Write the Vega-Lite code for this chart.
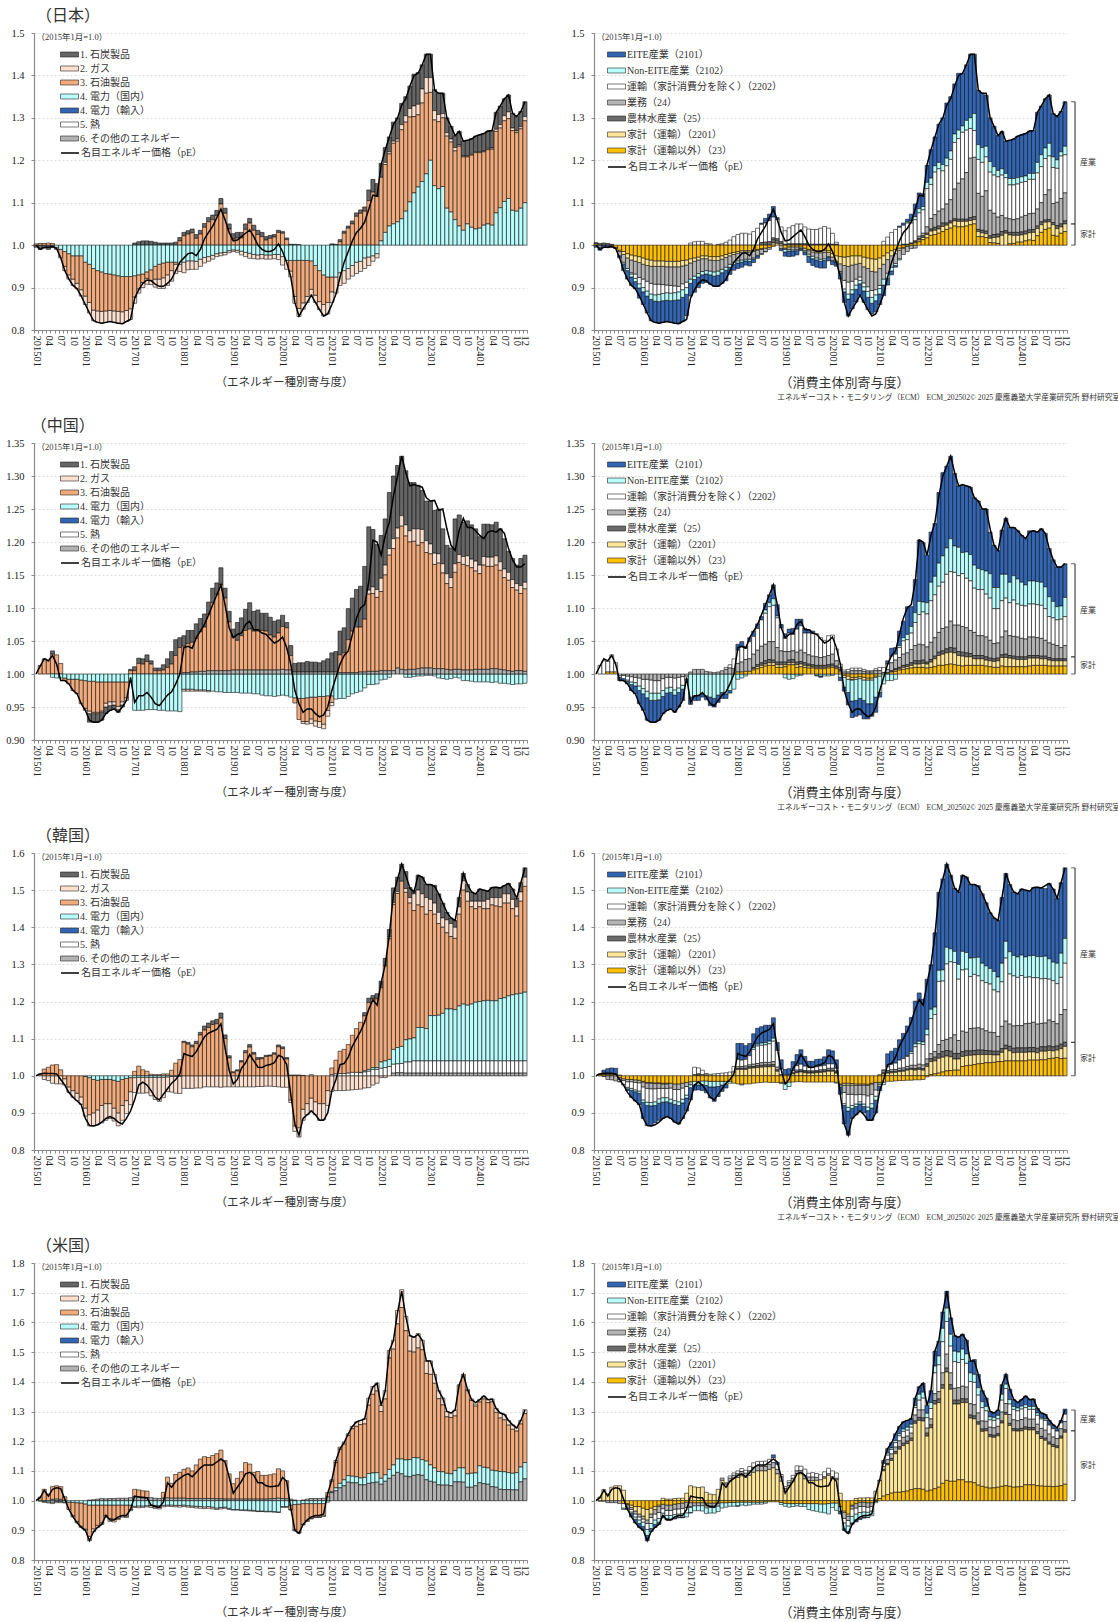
{"$schema":"https://vega.github.io/schema/vega-lite/v6.json","padding":{"left":5,"top":8,"right":0,"bottom":0},"background":"white","bounds":"flush","spacing":{"row":113,"column":67},"columns":2,"resolve":{"scale":{"color":"independent","stroke":"independent"},"legend":{"color":"independent","stroke":"independent"}},
"config":{"font":"Liberation Serif, Noto Sans CJK JP","view":{"stroke":null},"axisY":{"grid":true,"gridColor":"#cfcfcf","gridDash":[2,2],"gridWidth":0.7,"domainColor":"#888","domainWidth":1.2,"tickColor":"#888","tickSize":3,"labelFontSize":10.5,"labelColor":"#222","labelPadding":7,"labelOverlap":false,"titleFontSize":8.5,"titleFontWeight":"normal","titleAngle":0,"titleX":2,"titleY":8,"titleAlign":"left","titleColor":"#333"},"axisX":{"grid":false,"domainColor":"#888","domainWidth":1.2,"tickColor":"#888","tickSize":3,"tickBand":"extent","labelFontSize":10.5,"labelColor":"#222","labelAngle":90,"labelOverlap":false,"labelPadding":2,"titleFontSize":11.5,"titleFontWeight":"normal","titleColor":"#333","titlePadding":10,"titleX":250},"legend":{"orient":"none","labelFontSize":10,"labelColor":"#333","title":null,"symbolSize":100,"symbolStrokeWidth":0.6,"symbolStrokeColor":"#222","symbolOpacity":1,"padding":0,"labelOffset":5},"title":{"fontWeight":"normal","color":"#333"}},
"datasets":{
"jl":[{"t":201501,"l":0,"a":-0.5,"c":0.3},{"t":201502,"l":-1,"a":-1,"c":0.4},{"t":201503,"l":-0.5,"a":-0.7,"c":0.4},{"t":201504,"l":-0.5,"a":-1,"c":0.5},{"t":201505,"l":-0.3,"a":-0.6,"c":0.4},{"t":201506,"l":-0.8,"c":-0.5,"d":-0.5},{"t":201507,"l":-3,"c":-2,"d":-1},{"t":201508,"l":-6,"c":-3.5,"d":-1.5,"b":-1},{"t":201509,"l":-8,"c":-5,"d":-2,"b":-1},{"t":201510,"l":-9.5,"c":-5.5,"d":-2.5,"b":-1.5},{"t":201511,"l":-10.3,"c":-6.5,"d":-2.5,"b":-1.3},{"t":201512,"l":-12,"c":-8,"d":-2.5,"b":-1.5},{"t":201601,"l":-14,"d":-4,"c":-8,"b":-2},{"t":201602,"l":-16,"d":-4.5,"c":-9,"b":-2.5},{"t":201603,"l":-17.8,"d":-5.5,"c":-9.8,"b":-2.5},{"t":201604,"l":-18.2,"d":-6,"c":-9.5,"b":-2.7},{"t":201605,"l":-18.4,"d":-6.3,"c":-9.3,"b":-2.8},{"t":201606,"l":-18.2,"d":-6.7,"c":-8.8,"b":-2.7},{"t":201607,"l":-18,"d":-6.8,"c":-8.6,"b":-2.6},{"t":201608,"l":-18.2,"d":-7,"c":-8.5,"b":-2.7},{"t":201609,"l":-18.4,"d":-7.2,"c":-8.4,"b":-2.8},{"t":201610,"l":-18.5,"d":-7.4,"c":-8.3,"b":-2.8},{"t":201611,"l":-18,"d":-7.4,"c":-8,"b":-2.6},{"t":201612,"l":-17.5,"d":-7.4,"c":-7.6,"b":-2.5},{"t":201701,"l":-12.5,"d":-7.2,"c":-5,"b":-1.5,"a":0.5},{"t":201702,"l":-10.5,"d":-7,"c":-3.3,"b":-1,"a":0.8},{"t":201703,"l":-9,"d":-6.8,"c":-2,"b":-1.2,"a":1},{"t":201704,"l":-8.2,"d":-6.3,"c":-1.5,"b":-1.4,"a":1},{"t":201705,"l":-8.4,"d":-5.8,"c":-2.5,"b":-1,"a":0.9},{"t":201706,"l":-9.2,"d":-5,"c":-3,"b":-1.9,"a":0.7},{"t":201707,"l":-9.7,"d":-4.5,"c":-3.5,"b":-2.2,"a":0.5},{"t":201708,"l":-9.7,"d":-4.2,"c":-3.5,"b":-2.5,"a":0.5},{"t":201709,"l":-9,"d":-4,"c":-3,"b":-2.5,"a":0.5},{"t":201710,"l":-8,"d":-4,"c":-2,"b":-2.5,"a":0.5},{"t":201711,"l":-6,"d":-4,"c":-0.5,"b":-2.2,"a":0.7},{"t":201712,"l":-4,"d":-4.5,"b":-1.7,"c":1,"a":0.8},{"t":201801,"l":-3,"c":2.2,"a":0.8,"d":-4,"b":-2.5},{"t":201802,"l":-2,"c":2.6,"a":0.8,"d":-3.7,"b":-2.1},{"t":201803,"l":-1.8,"c":2.9,"a":0.9,"d":-3.7,"b":-2},{"t":201804,"l":-2.5,"c":1.6,"a":0.9,"d":-3.8,"b":-1.9},{"t":201805,"l":-1,"c":2.6,"a":0.9,"d":-3.3,"b":-1.7},{"t":201806,"l":1.5,"c":4.2,"a":0.9,"d":-2.9,"b":-1.3},{"t":201807,"l":3,"c":5.5,"a":1,"d":-2.7,"b":-1.1},{"t":201808,"l":4.5,"c":6,"a":1.1,"d":-2.4,"b":-0.9},{"t":201809,"l":6.5,"c":7,"a":1.2,"d":-2,"b":-0.7},{"t":201810,"l":8.5,"c":9.7,"a":1.3,"d":-1.8,"b":-0.7},{"t":201811,"l":6,"c":7.5,"a":1.2,"d":-1.7,"b":-0.6},{"t":201812,"l":3,"c":3.8,"a":1.2,"d":-1.3,"b":-0.5},{"t":201901,"l":1,"c":1.4,"a":1.3,"d":-1.1,"b":-0.4},{"t":201902,"l":1.2,"c":1.7,"a":1.3,"d":-1.2,"b":-0.5},{"t":201903,"l":2,"c":1.7,"a":1.3,"d":-1.4,"b":-0.9},{"t":201904,"l":2.8,"c":3.7,"a":1.3,"d":-1.7,"b":-1},{"t":201905,"l":3.6,"c":5.2,"a":1.1,"d":-1.9,"b":-1.2},{"t":201906,"l":2,"c":3.5,"a":1.2,"d":-2.2,"b":-1},{"t":201907,"l":0,"c":2.5,"a":1,"d":-2.3,"b":-1},{"t":201908,"l":-1,"c":2,"a":1,"d":-2.2,"b":-1},{"t":201909,"l":-1.5,"c":1.2,"a":0.8,"d":-2.3,"b":-1},{"t":201910,"l":-1.5,"c":1.6,"a":0.7,"d":-2.3,"b":-1},{"t":201911,"l":-1,"c":1.9,"a":0.6,"d":-2.2,"b":-1},{"t":201912,"l":0.3,"c":3,"a":0.5,"d":-2.2,"b":-1.2},{"t":202001,"l":-1.5,"c":2.8,"a":0.4,"d":-2.7,"b":-2},{"t":202002,"l":-4,"c":1.3,"a":0.4,"d":-3.6,"b":-2.1},{"t":202003,"l":-7.5,"d":-3.6,"c":-2.5,"b":-1.4,"a":0.2},{"t":202004,"l":-13.5,"d":-3.6,"c":-8.5,"b":-1.6,"a":0.2},{"t":202005,"l":-16.7,"d":-3.6,"c":-11.3,"b":-1.9,"a":0.1},{"t":202006,"l":-15,"d":-3.6,"c":-10,"b":-1.5},{"t":202007,"l":-13.5,"d":-3.6,"c":-8.5,"b":-1.4},{"t":202008,"l":-11.8,"d":-3.7,"c":-6.7,"b":-1.4},{"t":202009,"l":-13.5,"d":-4.8,"c":-7,"b":-1.7},{"t":202010,"l":-15.2,"d":-6,"c":-7.3,"b":-1.9},{"t":202011,"l":-16.7,"d":-7,"c":-7,"b":-2.7},{"t":202012,"l":-16.2,"d":-7.5,"c":-6,"b":-2.7},{"t":202101,"l":-14,"d":-7.5,"c":-3.5,"b":-2.5,"a":0.3},{"t":202102,"l":-11.5,"d":-7.5,"b":-3.8,"a":0.2},{"t":202103,"l":-7.5,"d":-6.5,"b":-3,"c":0.8,"a":0.5},{"t":202104,"l":-4,"c":2.8,"a":0.5,"d":-6,"b":-3},{"t":202105,"l":-1.5,"c":4,"a":0.5,"d":-5.5,"b":-2.5},{"t":202106,"l":1,"c":5,"a":0.7,"d":-4.8,"b":-2.5},{"t":202107,"l":3,"c":6.8,"a":0.8,"d":-4,"b":-2.7},{"t":202108,"l":4,"c":7.5,"a":0.8,"d":-3.8,"b":-2.4},{"t":202109,"l":5.5,"c":8,"a":1,"d":-3,"b":-2.5},{"t":202110,"l":8.5,"c":10.5,"a":2.5,"d":-2.8,"b":-2},{"t":202111,"l":11.8,"c":12.5,"a":3,"d":-2.5,"b":-1.3},{"t":202112,"l":11.5,"c":11.5,"a":3,"d":-2,"b":-1},{"t":202201,"l":19,"d":1,"c":15,"a":3.3},{"t":202202,"l":22.5,"d":3,"c":16,"b":0.5,"a":3.5},{"t":202203,"l":25.5,"d":4.5,"c":17,"b":0.5,"a":3.5},{"t":202204,"l":28.5,"d":5,"c":19,"b":0.5,"a":4.5},{"t":202205,"l":30,"d":5.5,"c":19,"b":0.5,"a":5},{"t":202206,"l":33,"d":6.2,"c":21,"b":1.2,"a":5},{"t":202207,"l":34.5,"d":8,"c":21,"b":1.5,"a":4.5},{"t":202208,"l":37.5,"d":10.2,"c":20,"b":2,"a":5.3},{"t":202209,"l":40,"d":12.3,"c":18,"b":2.5,"a":7.5},{"t":202210,"l":40.5,"d":13.7,"c":17,"b":2.5,"a":7.5},{"t":202211,"l":42.5,"d":15,"c":18.5,"b":3.3,"a":5.7},{"t":202212,"l":45,"d":16.8,"c":19,"b":3.7,"a":5.5},{"t":202301,"l":45,"d":20,"c":16,"b":3.5,"a":5.5},{"t":202302,"l":36.5,"d":14,"c":15.5,"b":2.2,"a":5},{"t":202303,"l":35.8,"d":13.3,"c":15.8,"b":1.7,"a":5},{"t":202304,"l":35.8,"d":13.8,"c":16.2,"b":1,"a":4.8},{"t":202305,"l":30,"d":8.7,"c":17,"b":0.8,"a":3.5},{"t":202306,"l":28,"d":7.8,"c":16.5,"b":0.7,"a":3},{"t":202307,"l":25.8,"d":6,"c":16.2,"b":0.8,"a":2.8},{"t":202308,"l":26.8,"d":4.5,"c":18.8,"b":0.3,"a":3.2},{"t":202309,"l":24.5,"d":3.5,"c":17.3,"b":0.2,"a":3.5},{"t":202310,"l":24.7,"d":5,"c":15.8,"b":0.2,"a":3.7},{"t":202311,"l":25,"d":4.2,"c":17,"b":0.2,"a":3.7},{"t":202312,"l":25.7,"d":3.8,"c":18,"b":0.2,"a":3.7},{"t":202401,"l":26,"d":4,"c":17.8,"b":0.2,"a":4},{"t":202402,"l":26.3,"d":4.7,"c":17.3,"b":0.2,"a":4.1},{"t":202403,"l":26.9,"d":5,"c":17.5,"b":0.3,"a":4.1},{"t":202404,"l":27,"d":4.7,"c":17.9,"b":0.3,"a":4.1},{"t":202405,"l":31.3,"d":7.6,"c":19.2,"b":0.5,"a":4},{"t":202406,"l":32.8,"d":8.8,"c":18.8,"b":0.8,"a":4.4},{"t":202407,"l":34.5,"d":10.3,"c":19,"b":1.2,"a":4},{"t":202408,"l":35.4,"d":11,"c":18.8,"b":1.6,"a":4},{"t":202409,"l":31,"d":8.2,"c":18.8,"b":0.6,"a":3.5},{"t":202410,"l":30.3,"d":8,"c":18.5,"b":0.4,"a":3.4},{"t":202411,"l":31.5,"d":8.7,"c":18.7,"b":0.5,"a":3.6},{"t":202412,"l":33.8,"d":10,"c":19.3,"b":1,"a":3.5}],
"jr":[{"t":201501,"l":0,"a":-0.5,"g":0.3,"e":0.3},{"t":201502,"l":-1,"a":-0.7,"e":0.4,"d":-0.5},{"t":201503,"l":-0.5,"a":-0.5,"e":0.5},{"t":201504,"l":-0.5,"a":-0.6,"e":0.4},{"t":201505,"l":-0.3,"a":-0.3,"e":0.2,"d":-0.2},{"t":201506,"l":-0.8,"g":-0.5,"a":-0.3},{"t":201507,"l":-3,"g":-1.2,"f":-0.3,"d":-1,"a":-0.5},{"t":201508,"l":-6,"g":-1.5,"f":-0.7,"d":-1.8,"b":-0.4,"a":-1.6},{"t":201509,"l":-8,"g":-2,"f":-1,"d":-2.5,"b":-0.5,"a":-2},{"t":201510,"l":-9.5,"g":-2.3,"f":-1.2,"d":-3,"c":-0.3,"b":-0.7,"a":-2},{"t":201511,"l":-10.3,"g":-2.5,"f":-1.3,"d":-3,"c":-1,"b":-0.8,"a":-1.7},{"t":201512,"l":-12,"g":-2.7,"f":-1.4,"d":-3.5,"c":-1.5,"b":-1,"a":-2.4},{"t":201601,"l":-14,"g":-3,"f":-1.5,"d":-3.5,"c":-2,"b":-1,"a":-3},{"t":201602,"l":-16,"g":-3.3,"f":-1.5,"d":-3.7,"c":-2.3,"b":-1.2,"a":-4},{"t":201603,"l":-17.8,"g":-3.5,"f":-1.5,"d":-4,"c":-2.5,"b":-1.3,"a":-5},{"t":201604,"l":-18.2,"g":-3.7,"f":-1.3,"d":-4.2,"c":-2.5,"b":-1.5,"a":-5},{"t":201605,"l":-18.4,"g":-3.7,"f":-1.3,"d":-4.2,"c":-2.4,"b":-1.7,"a":-5.1},{"t":201606,"l":-18.2,"g":-3.7,"f":-1.3,"d":-4.3,"c":-2.1,"b":-1.7,"a":-5.1},{"t":201607,"l":-18,"g":-3.8,"f":-1.3,"d":-4.3,"c":-1.8,"b":-1.8,"a":-5},{"t":201608,"l":-18.2,"g":-3.8,"f":-1.3,"d":-4.4,"c":-1.8,"b":-1.8,"a":-5.1},{"t":201609,"l":-18.4,"g":-3.8,"f":-1.3,"d":-4.5,"c":-1.6,"b":-1.8,"a":-5.4},{"t":201610,"l":-18.5,"g":-3.8,"f":-1.3,"d":-4.6,"c":-1.3,"b":-1.9,"a":-5.6},{"t":201611,"l":-18,"g":-3.6,"f":-1.3,"d":-4.2,"c":-1.4,"b":-1.8,"a":-5.7},{"t":201612,"l":-17.5,"g":-3.5,"f":-1.2,"d":-4,"c":-1.3,"b":-1.6,"a":-5},{"t":201701,"l":-12.5,"g":-3.2,"f":-1,"d":-3.8,"b":-1,"a":-3,"c":0.5},{"t":201702,"l":-10.5,"g":-3,"f":-0.8,"d":-3.5,"b":-0.8,"a":-3,"c":0.8},{"t":201703,"l":-9,"g":-2.8,"f":-0.7,"d":-3.2,"b":-0.8,"a":-2.5,"c":0.9},{"t":201704,"l":-8.2,"g":-2.5,"f":-0.7,"d":-3,"b":-0.8,"a":-2,"c":0.9},{"t":201705,"l":-8.4,"g":-2.5,"f":-0.7,"d":-2.8,"b":-0.8,"a":-2,"c":0.4},{"t":201706,"l":-9.2,"g":-2.7,"f":-0.8,"d":-2.6,"b":-0.9,"a":-2.2,"c":0.3},{"t":201707,"l":-9.7,"g":-2.7,"f":-0.9,"d":-2.7,"b":-1,"a":-2.4},{"t":201708,"l":-9.7,"g":-2.7,"f":-0.9,"d":-2.5,"b":-1,"a":-2.6,"c":0.2},{"t":201709,"l":-9,"g":-2.5,"f":-0.8,"d":-2.4,"b":-0.8,"a":-2.5,"c":0.3},{"t":201710,"l":-8,"g":-2.2,"f":-0.7,"d":-2.3,"b":-0.7,"a":-2.5,"c":0.7},{"t":201711,"l":-6,"g":-1.9,"f":-0.6,"d":-2,"b":-0.7,"a":-1.7,"c":1.2},{"t":201712,"l":-4,"g":-1.7,"f":-0.5,"d":-1.8,"b":-0.6,"a":-1.3,"c":2},{"t":201801,"l":-3,"g":-1.5,"f":-0.4,"d":-1.8,"b":-0.5,"a":-1.3,"c":2.5},{"t":201802,"l":-2,"g":-1.3,"f":-0.4,"d":-1.8,"b":-0.5,"a":-1.2,"c":2.8},{"t":201803,"l":-1.8,"g":-1.3,"f":-0.3,"d":-1.7,"b":-0.4,"a":-1,"c":2.8},{"t":201804,"l":-2.5,"g":-1.3,"f":-0.3,"d":-1.7,"b":-0.5,"a":-1.1,"c":2.6},{"t":201805,"l":-1,"g":-1.2,"f":-0.3,"d":-1.5,"b":-0.3,"a":-0.8,"c":3.2},{"t":201806,"l":1.5,"g":-1,"f":-0.2,"d":-1.2,"b":-0.2,"a":-0.5,"c":4},{"t":201807,"l":3,"g":-0.8,"f":-0.2,"d":-1,"b":-0.2,"e":0.6,"a":0.3,"c":4.3},{"t":201808,"l":4.5,"g":-0.7,"d":-0.8,"e":0.7,"c":4.5,"a":1.1,"b":-0.1},{"t":201809,"l":6.5,"g":-0.5,"d":-0.5,"e":0.8,"c":5,"a":1.5},{"t":201810,"l":8.5,"g":-0.3,"f":0.5,"e":0.9,"c":4.9,"a":2.5,"d":0.3},{"t":201811,"l":6,"f":0.4,"e":0.8,"c":4.5,"a":0.5,"d":0.3},{"t":201812,"l":3,"f":0.3,"e":0.5,"c":3.5,"a":-0.5,"d":-0.8},{"t":201901,"l":1,"g":-0.7,"e":0.2,"c":3.2,"a":-1,"b":-0.6,"d":-0.3},{"t":201902,"l":1.2,"g":-0.4,"e":0.3,"c":3.8,"a":-1.3,"b":-0.4,"d":-0.6},{"t":201903,"l":2,"g":-0.4,"e":0.3,"c":4.3,"a":-1.2,"b":-0.3,"d":-0.7},{"t":201904,"l":2.8,"g":-0.4,"e":0.3,"c":4.7,"a":-1,"b":-0.3,"d":-0.6},{"t":201905,"l":3.6,"g":-0.4,"e":0.3,"c":4.7,"a":-0.3,"d":-0.4,"b":-0.2},{"t":201906,"l":2,"g":-0.7,"e":0.3,"c":4,"a":-0.7,"b":-0.3,"d":-0.6},{"t":201907,"l":0,"g":-1,"f":-0.3,"e":0.2,"c":3.6,"a":-1.5,"b":-0.5,"d":-0.8},{"t":201908,"l":-1,"g":-1.2,"f":-0.4,"e":0.2,"c":3.5,"a":-1.6,"b":-0.6,"d":-1},{"t":201909,"l":-1.5,"g":-1.3,"f":-0.5,"e":0.2,"c":3.5,"a":-1.7,"b":-0.5,"d":-1.2},{"t":201910,"l":-1.5,"g":-1.3,"f":-0.5,"e":0.2,"c":3.8,"a":-1.6,"b":-0.5,"d":-1.5},{"t":201911,"l":-1,"g":-1.3,"f":-0.4,"e":0.2,"c":4.2,"a":-1.8,"b":-0.4,"d":-1.5},{"t":201912,"l":0.3,"g":-1.3,"f":-0.4,"e":0.2,"c":3.8,"a":-0.8,"b":-0.2,"d":-1},{"t":202001,"l":-1.5,"g":-2,"f":-0.8,"e":0.2,"c":2.6,"a":-0.8,"b":-0.2,"d":-0.8},{"t":202002,"l":-4,"g":-2.5,"f":-1.3,"e":0.2,"c":0.5,"a":-1,"b":-0.2},{"t":202003,"l":-7.5,"g":-2.7,"f":-1.7,"d":-1.8,"a":-1.5,"b":-0.3},{"t":202004,"l":-13.5,"g":-2.8,"f":-2,"d":-3.5,"c":-2,"b":-0.7,"a":-2.5},{"t":202005,"l":-16.7,"g":-2.7,"f":-2.3,"d":-3.7,"c":-2.8,"b":-1.2,"a":-4},{"t":202006,"l":-15,"g":-2.5,"f":-2.2,"d":-3.8,"c":-2,"b":-1,"a":-3.5},{"t":202007,"l":-13.5,"g":-2.5,"f":-2,"d":-3.5,"c":-1.4,"b":-1,"a":-3},{"t":202008,"l":-11.8,"g":-2.5,"f":-1.8,"d":-3.2,"c":-0.8,"b":-0.8,"a":-2.7},{"t":202009,"l":-13.5,"g":-2.8,"f":-2.3,"d":-3.8,"c":-0.9,"b":-1,"a":-2.7},{"t":202010,"l":-15.2,"g":-3,"f":-2.5,"d":-4.3,"c":-1.1,"b":-1.4,"a":-2.9},{"t":202011,"l":-16.7,"g":-3.2,"f":-3,"d":-4.5,"c":-1.6,"b":-1.4,"a":-2.5},{"t":202012,"l":-16.2,"g":-3.3,"f":-3,"d":-4.2,"c":-1.2,"b":-1.4,"a":-2.6},{"t":202101,"l":-14,"g":-3,"f":-2.5,"d":-4,"c":-0.7,"b":-1.3,"a":-2.5},{"t":202102,"l":-11.5,"g":-2.5,"f":-2,"d":-3.5,"c":0.9,"b":-1.4,"a":-2.5},{"t":202103,"l":-7.5,"g":-1.8,"f":-1.6,"d":-3.2,"c":1.9,"b":-1.2,"a":-1.6},{"t":202104,"l":-4,"g":-1.3,"f":-1.2,"d":-2.7,"c":3,"b":-0.9,"a":-0.9},{"t":202105,"l":-1.5,"g":-1,"f":-1,"d":-2.3,"c":3.7,"b":-0.5,"a":-0.4},{"t":202106,"l":1,"g":-0.7,"f":-0.5,"d":-2,"c":4.2,"b":-0.3,"a":0.3},{"t":202107,"l":3,"g":-0.5,"f":-0.2,"d":-1.5,"c":4.5,"e":0.2,"a":0.5},{"t":202108,"l":4,"g":-0.3,"d":-1.2,"c":5,"e":0.2,"a":0.6,"b":0.3},{"t":202109,"l":5.5,"d":-0.8,"c":4.7,"e":0.2,"g":0.3,"a":1.6,"b":0.5},{"t":202110,"l":8.5,"g":0.5,"f":0.2,"e":0.3,"d":-0.7,"c":5,"a":3,"b":0.7},{"t":202111,"l":11.8,"g":0.8,"f":0.4,"e":0.4,"c":5.5,"d":0.5,"a":3.7,"b":1},{"t":202112,"l":11.5,"g":1.3,"f":0.5,"e":0.4,"c":5.5,"d":0.6,"a":3,"b":0.8},{"t":202201,"l":19,"g":1.7,"f":0.8,"e":0.3,"d":1.5,"c":9,"b":1.5,"a":4},{"t":202202,"l":22.5,"g":2.3,"f":1,"e":0.5,"d":2.5,"c":8,"b":1.5,"a":6.7},{"t":202203,"l":25.5,"g":2.5,"f":1,"e":0.7,"d":3,"c":10,"b":1.5,"a":6.8},{"t":202204,"l":28.5,"g":2.8,"f":1,"e":0.7,"d":3.5,"c":10,"b":1.5,"a":9},{"t":202205,"l":30,"g":3.2,"f":1.2,"e":0.8,"d":3.3,"c":9,"b":1.5,"a":11},{"t":202206,"l":33,"g":3.7,"f":1,"e":0.5,"d":4.5,"c":9,"b":1.8,"a":13},{"t":202207,"l":34.5,"g":4,"f":1.2,"e":0.5,"d":5,"c":9.5,"b":2,"a":12.8},{"t":202208,"l":37.5,"g":4.5,"f":1.2,"e":0.5,"d":7,"c":11,"b":2,"a":11.8},{"t":202209,"l":40,"g":4.3,"f":1.3,"e":0.5,"d":8.5,"c":10.5,"b":2,"a":13.4},{"t":202210,"l":40.5,"g":4.3,"f":1.3,"e":0.5,"d":9.5,"c":11,"b":1.5,"a":12.4},{"t":202211,"l":42.5,"g":4.5,"f":1.1,"e":0.5,"d":11,"c":10,"b":2.3,"a":13.1},{"t":202212,"l":45,"g":4.8,"f":1,"e":0.7,"d":14,"c":7,"b":2.5,"a":15},{"t":202301,"l":45,"g":5,"f":1,"e":0.7,"d":14,"c":6.3,"b":4,"a":14},{"t":202302,"l":36.5,"g":2,"f":1.2,"e":0.5,"d":8.5,"c":8,"b":3.5,"a":12.8},{"t":202303,"l":35.8,"g":2,"f":0.9,"e":0.6,"d":8,"c":8,"b":3.5,"a":12.8},{"t":202304,"l":35.8,"g":1.8,"f":0.9,"e":0.6,"d":9.5,"c":8,"b":2.5,"a":12},{"t":202305,"l":30,"g":0.6,"f":1,"e":0.6,"d":6,"c":9,"b":2.5,"a":10.3},{"t":202306,"l":28,"g":0.5,"f":1.3,"e":0.7,"d":5,"c":9,"b":2,"a":9.5},{"t":202307,"l":25.8,"g":0.4,"f":1.5,"e":0.7,"d":4,"c":9.5,"b":1.5,"a":8.2},{"t":202308,"l":26.8,"f":2.3,"e":0.9,"d":3.8,"c":9.5,"b":1.5,"a":8.8},{"t":202309,"l":24.5,"f":2.8,"e":0.6,"d":3,"c":9.5,"b":1,"a":7.6},{"t":202310,"l":24.7,"g":0.3,"f":2.1,"e":0.6,"d":3.2,"c":8,"b":1.5,"a":9},{"t":202311,"l":25,"g":0.4,"f":1.9,"e":0.7,"d":3,"c":8.2,"b":1.5,"a":9.3},{"t":202312,"l":25.7,"g":0.7,"f":1.6,"e":0.7,"d":3.2,"c":8.2,"b":1.5,"a":9.8},{"t":202401,"l":26,"g":0.7,"f":1.7,"e":0.7,"d":3.5,"c":8.2,"b":1.3,"a":9.9},{"t":202402,"l":26.3,"g":1,"f":1.6,"e":0.7,"d":3.7,"c":8,"b":1.3,"a":10},{"t":202403,"l":26.9,"g":1.2,"f":1.7,"e":0.7,"d":3.8,"c":8.1,"b":1.4,"a":10},{"t":202404,"l":27,"g":1.1,"f":1.9,"e":0.7,"d":3.8,"c":8,"b":1.4,"a":10.1},{"t":202405,"l":31.3,"g":2.2,"f":1.7,"e":0.6,"d":4,"c":8.5,"b":2.5,"a":11.8},{"t":202406,"l":32.8,"g":3,"f":1.8,"e":0.7,"d":4.5,"c":8.5,"b":2.8,"a":11.5},{"t":202407,"l":34.5,"g":3.7,"f":1.7,"e":0.5,"d":6,"c":8.5,"b":2.5,"a":11.6},{"t":202408,"l":35.4,"g":4,"f":1.5,"e":0.5,"d":7,"c":8,"b":3,"a":11.4},{"t":202409,"l":31,"g":2.3,"f":2.5,"e":0.5,"d":4.5,"c":8.5,"b":2.5,"a":10.2},{"t":202410,"l":30.3,"g":2.1,"f":1.8,"e":0.7,"d":5.5,"c":8,"b":2,"a":10.2},{"t":202411,"l":31.5,"g":2.8,"f":1.5,"e":0.7,"d":6,"c":10,"b":1,"a":9.5},{"t":202412,"l":33.8,"g":3.2,"f":1.8,"e":0.7,"d":6.6,"c":9,"b":2,"a":10.5}],
"cl":[{"t":201501,"l":0},{"t":201502,"l":1.2,"c":1.3},{"t":201503,"l":2.3,"c":2.3},{"t":201504,"l":2,"c":2},{"t":201505,"l":2.8,"c":3,"a":0.5,"d":-0.5},{"t":201506,"l":1.5,"c":2.9,"d":-0.6},{"t":201507,"l":-1,"c":1.6,"d":-0.6},{"t":201508,"l":-1,"d":-0.6,"c":-0.4},{"t":201509,"l":-1.5,"d":-0.8,"c":-0.7},{"t":201510,"l":-2.5,"d":-0.8,"c":-1.7},{"t":201511,"l":-3,"d":-0.8,"c":-2.2},{"t":201512,"l":-4.5,"d":-0.9,"c":-3.6},{"t":201601,"l":-5.5,"d":-1,"c":-4.2,"b":-0.3},{"t":201602,"l":-7,"d":-1.1,"c":-4.5,"b":-0.4,"a":-1.3},{"t":201603,"l":-7.3,"d":-1.1,"c":-4.7,"b":-0.2,"a":-1.3},{"t":201604,"l":-7.3,"d":-1.2,"c":-4.6,"b":-0.2,"a":-1.3},{"t":201605,"l":-7,"d":-1.2,"c":-4.4,"b":-0.2,"a":-1.2},{"t":201606,"l":-6,"d":-1.2,"c":-3.2,"b":-0.6,"a":-1},{"t":201607,"l":-5.5,"d":-1.2,"c":-3,"b":-0.6,"a":-0.7},{"t":201608,"l":-5.3,"d":-1.2,"c":-3,"b":-0.5,"a":-0.6},{"t":201609,"l":-5.8,"d":-1.2,"c":-3.7,"b":-0.5,"a":-0.4},{"t":201610,"l":-5,"d":-1.2,"c":-3,"b":-0.5,"a":-0.3},{"t":201611,"l":-4,"d":-1.2,"c":-2.4,"b":-0.4},{"t":201612,"l":-0.5,"d":-1.2,"c":0.5,"a":0.2},{"t":201701,"l":-4.3,"d":-5.5,"c":0.5,"a":0.6},{"t":201702,"l":-3.3,"d":-5.5,"c":1.6,"a":0.8},{"t":201703,"l":-3.3,"d":-5.5,"c":1.5,"a":0.8},{"t":201704,"l":-2.8,"d":-5.4,"c":1.9,"a":1},{"t":201705,"l":-3.5,"d":-5.4,"c":1.5,"a":0.5},{"t":201706,"l":-4.5,"d":-5.4,"c":0.5,"a":0.4},{"t":201707,"l":-4.8,"d":-5.5,"c":0.5,"a":0.4},{"t":201708,"l":-4,"d":-5.5,"c":0.6,"a":0.8},{"t":201709,"l":-3.2,"d":-5.6,"c":1,"a":1.3},{"t":201710,"l":-2.7,"d":-5.6,"c":1.5,"a":1.9},{"t":201711,"l":-1.5,"d":-5.6,"c":2.8,"a":2.4},{"t":201712,"l":0,"d":-5.7,"c":4,"a":1.5},{"t":201801,"l":4,"c":4,"a":1.6,"g":0.2,"d":-2.3,"b":-0.3},{"t":201802,"l":4.2,"c":4.4,"a":2,"g":0.2,"d":-2.3,"b":-0.3},{"t":201803,"l":3.9,"c":4.5,"a":1.8,"g":0.3,"d":-2.3,"b":-0.3},{"t":201804,"l":5.5,"c":5.1,"a":2.2,"g":0.3,"d":-2.4,"b":-0.2},{"t":201805,"l":6.5,"c":6,"a":2,"g":0.4,"d":-2.4,"b":-0.2},{"t":201806,"l":7.5,"c":6.7,"a":2,"g":0.4,"d":-2.4,"b":-0.2},{"t":201807,"l":9,"c":8.5,"a":1.9,"g":0.5,"d":-2.5,"b":-0.2},{"t":201808,"l":10.5,"c":10.3,"a":2.2,"g":0.5,"d":-2.6},{"t":201809,"l":12,"c":11.5,"a":1.8,"g":0.5,"d":-2.7},{"t":201810,"l":13.5,"c":13,"a":2.6,"g":0.5,"d":-2.7},{"t":201811,"l":10.5,"c":11,"a":1.5,"g":0.5,"d":-2.8},{"t":201812,"l":7,"c":7.4,"a":1.6,"g":0.5,"d":-2.8},{"t":201901,"l":5.5,"c":5,"a":1.2,"g":0.6,"d":-2.8},{"t":201902,"l":6,"c":4.5,"a":2.7,"g":0.6,"d":-2.8},{"t":201903,"l":6.2,"c":5.2,"a":2.7,"g":0.6,"d":-2.9},{"t":201904,"l":7.5,"c":6,"a":3.2,"g":0.6,"d":-2.9},{"t":201905,"l":8,"c":6.2,"a":4,"g":0.6,"d":-2.9},{"t":201906,"l":6.7,"c":5.9,"a":3,"g":0.6,"d":-3},{"t":201907,"l":6.7,"c":5.9,"a":3.2,"g":0.6,"d":-3},{"t":201908,"l":6.2,"c":6,"a":2.6,"g":0.6,"d":-3.2},{"t":201909,"l":6,"c":5.9,"a":2.7,"g":0.6,"d":-3.3},{"t":201910,"l":5.3,"c":5.3,"a":2.7,"g":0.6,"d":-3.3},{"t":201911,"l":4.7,"c":5,"a":2.4,"g":0.6,"d":-3.4},{"t":201912,"l":5,"c":5.6,"a":2,"g":0.6,"d":-3.3},{"t":202001,"l":5.6,"c":6.5,"a":1.7,"g":0.7,"d":-3.2},{"t":202002,"l":4,"c":6.4,"a":0.8,"g":0.6,"d":-3.3},{"t":202003,"l":1.5,"c":2.2,"a":1.5,"g":0.6,"d":-3.5},{"t":202004,"l":-2.5,"a":1.3,"g":0.3,"d":-3.6,"c":-0.8},{"t":202005,"l":-4.5,"a":1.4,"g":0.3,"d":-3.7,"c":-3.2},{"t":202006,"l":-5.8,"a":1.4,"g":0.3,"d":-3.7,"c":-3.5,"b":-0.3},{"t":202007,"l":-5.3,"a":1.6,"g":0.3,"d":-3.6,"c":-3.6,"b":-0.4},{"t":202008,"l":-5.3,"a":1.5,"g":0.3,"d":-3.5,"c":-3.3,"b":-0.7},{"t":202009,"l":-6,"a":1.5,"g":0.3,"d":-3.5,"c":-3.6,"b":-0.8},{"t":202010,"l":-6.5,"a":1.4,"g":0.3,"d":-3.4,"c":-3.8,"b":-0.9},{"t":202011,"l":-6.2,"a":1.7,"g":0.3,"d":-3.4,"c":-4.2,"b":-0.7},{"t":202012,"l":-5,"a":2,"g":0.3,"d":-3.3,"c":-2.2,"b":-0.9},{"t":202101,"l":-2.5,"a":2.9,"g":0.3,"d":-3.3,"c":-1,"b":-0.5},{"t":202102,"l":-0.5,"a":3.1,"g":0.3,"d":-3.8},{"t":202103,"l":1.5,"c":2.7,"a":3.6,"g":0.2,"d":-3.7},{"t":202104,"l":2.8,"c":3,"a":3.8,"g":0.2,"d":-3.7},{"t":202105,"l":3.5,"c":5,"a":4.7,"g":0.2,"d":-3.4},{"t":202106,"l":6,"c":6.3,"a":5,"g":0.2,"d":-3},{"t":202107,"l":8.5,"c":6.9,"a":5.7,"g":0.2,"d":-2.8},{"t":202108,"l":10,"c":6.8,"a":6.2,"g":0.3,"d":-2.6},{"t":202109,"l":10.5,"c":8,"a":8,"g":0.3,"d":-2.1},{"t":202110,"l":14,"c":11.7,"a":9.6,"g":0.4,"b":0.6,"d":-1.6},{"t":202111,"l":20.3,"c":11.8,"a":8.7,"g":0.4,"b":1,"d":-1.6},{"t":202112,"l":20,"c":11.2,"a":6.8,"g":0.4,"b":1.2,"d":-1.5},{"t":202201,"l":18,"g":0.5,"c":12,"b":2,"a":6.5,"d":-0.9},{"t":202202,"l":21,"g":0.5,"c":14.5,"b":1.5,"a":7,"d":-0.8},{"t":202203,"l":23,"g":0.5,"c":17.5,"b":1,"a":8.5,"d":-0.5},{"t":202204,"l":27,"g":0.5,"c":18.5,"b":1.5,"a":9.5},{"t":202205,"l":30,"g":0.9,"c":19.7,"b":1.5,"a":9.5},{"t":202206,"l":33,"g":0.7,"c":21.7,"b":1.6,"a":9},{"t":202207,"l":30.5,"g":0.6,"c":20.3,"b":1.7,"a":8.2,"d":-0.5},{"t":202208,"l":28.5,"g":0.7,"c":19.3,"b":1.7,"a":7.3,"d":-0.5},{"t":202209,"l":28.7,"g":0.7,"c":19.4,"b":1.9,"a":7,"d":-0.4},{"t":202210,"l":28.5,"g":0.8,"c":18.7,"b":2.5,"a":6.6,"d":-0.3},{"t":202211,"l":28.3,"g":0.9,"c":19,"b":2,"a":5.9,"d":-0.3},{"t":202212,"l":26.7,"g":0.9,"c":17.5,"b":1.8,"a":6,"d":-0.2},{"t":202301,"l":26.2,"g":0.9,"c":17.3,"b":1.5,"a":6.5,"d":-0.2},{"t":202302,"l":26.3,"g":0.8,"c":15.8,"b":1.7,"a":6.5,"d":-0.3},{"t":202303,"l":24.8,"g":0.8,"c":16,"b":1.4,"a":6.8,"d":-0.6},{"t":202304,"l":25,"g":0.8,"c":14.5,"b":1.4,"a":5.3,"d":-0.7},{"t":202305,"l":22,"g":0.7,"c":13,"b":1.5,"a":4.3,"d":-0.8},{"t":202306,"l":19.5,"g":0.6,"c":12.5,"b":1.5,"a":4.5,"d":-0.7},{"t":202307,"l":18.7,"g":0.7,"c":14.7,"b":1.3,"a":6.8,"d":-0.5},{"t":202308,"l":21.8,"g":0.7,"c":16.2,"b":1.2,"a":6,"d":-0.6},{"t":202309,"l":23.6,"g":0.6,"c":16,"b":1.2,"a":5.2,"d":-1},{"t":202310,"l":22.2,"g":0.6,"c":15.8,"b":1.5,"a":5.3,"d":-1},{"t":202311,"l":22.2,"g":0.6,"c":15.5,"b":1.3,"a":5.2,"d":-1.1},{"t":202312,"l":21.7,"g":0.7,"c":14.9,"b":1.5,"a":4.9,"d":-1.2},{"t":202401,"l":21,"g":0.7,"c":14.5,"b":1.3,"a":4.3,"d":-1.2},{"t":202402,"l":20.5,"g":0.7,"c":15.8,"b":1.3,"a":4.9,"d":-1.2},{"t":202403,"l":21.5,"g":0.7,"c":15.6,"b":1.4,"a":5,"d":-1.2},{"t":202404,"l":21.7,"g":0.8,"c":15.5,"b":1.4,"a":4.9,"d":-1.3},{"t":202405,"l":21.5,"g":0.8,"c":15.7,"b":1.4,"a":5.1,"d":-1.2},{"t":202406,"l":22,"g":0.7,"c":15,"b":1.3,"a":5,"d":-1.4},{"t":202407,"l":21.3,"g":0.6,"c":14,"b":1.3,"a":4.6,"d":-1.4},{"t":202408,"l":19,"g":0.5,"c":13.7,"b":1.2,"a":3.2,"d":-1.5},{"t":202409,"l":17.3,"g":0.4,"c":12.7,"b":1.2,"a":3.2,"d":-1.6},{"t":202410,"l":16.2,"g":0.5,"c":12.2,"b":1,"a":2.8,"d":-1.5},{"t":202411,"l":16.2,"g":0.5,"c":11.7,"b":1.2,"a":4.1,"d":-1.5},{"t":202412,"l":16.7,"g":0.4,"c":12.5,"b":1,"a":4.1,"d":-1.4}],
"cr":[{"t":201501,"l":0},{"t":201502,"l":1.2,"c":1.3},{"t":201503,"l":2.3,"c":2},{"t":201504,"l":2,"c":1.6,"g":0.3},{"t":201505,"l":2.8,"c":2.6,"g":0.3},{"t":201506,"l":1.5,"c":1.4,"g":0.3},{"t":201507,"l":-1,"a":-0.5,"b":-0.3,"c":-0.2},{"t":201508,"l":-1,"d":-0.2,"c":-0.5,"a":-0.3},{"t":201509,"l":-1.5,"d":-0.3,"c":-0.6,"b":-0.2,"a":-0.4},{"t":201510,"l":-2.5,"d":-0.4,"c":-0.8,"b":-0.4,"a":-0.9},{"t":201511,"l":-3,"d":-0.5,"c":-0.8,"b":-0.5,"a":-1.2},{"t":201512,"l":-4.5,"d":-0.6,"c":-1.2,"b":-0.7,"a":-2},{"t":201601,"l":-5.5,"d":-0.8,"c":-1.4,"b":-0.8,"a":-2.5},{"t":201602,"l":-7,"d":-0.8,"c":-1.8,"b":-1,"a":-3.4},{"t":201603,"l":-7.3,"d":-0.9,"c":-2,"b":-1.1,"a":-3.3},{"t":201604,"l":-7.3,"d":-1,"c":-1.9,"b":-1.1,"a":-3.3},{"t":201605,"l":-7,"d":-1,"c":-1.9,"b":-1,"a":-3.1},{"t":201606,"l":-6,"d":-0.7,"c":-1.8,"b":-0.9,"a":-2.6},{"t":201607,"l":-5.5,"d":-0.5,"c":-1.6,"b":-0.8,"a":-2.6},{"t":201608,"l":-5.3,"d":-0.5,"c":-1.5,"b":-0.8,"a":-2.5},{"t":201609,"l":-5.8,"d":-0.6,"c":-1.8,"b":-0.8,"a":-2.6},{"t":201610,"l":-5,"d":-0.5,"c":-1.6,"b":-0.7,"a":-2.2},{"t":201611,"l":-4,"d":-0.4,"c":-1.3,"b":-0.6,"a":-1.7},{"t":201612,"l":-0.5,"d":-0.3,"c":-0.5,"b":-0.3},{"t":201701,"l":-4.3,"d":0.3,"b":-3.5,"a":-1.1},{"t":201702,"l":-3.3,"d":0.7,"b":-3.3,"a":-0.7},{"t":201703,"l":-3.3,"d":0.7,"b":-3.2,"a":-0.8},{"t":201704,"l":-2.8,"d":0.7,"b":-3,"a":-0.5},{"t":201705,"l":-3.5,"d":0.4,"b":-3.3,"a":-0.6},{"t":201706,"l":-4.5,"d":0.3,"b":-3.5,"a":-1.3},{"t":201707,"l":-4.8,"d":0.2,"b":-3.7,"a":-1.3},{"t":201708,"l":-4,"d":0.3,"b":-3.2,"a":-1.1},{"t":201709,"l":-3.2,"d":0.5,"b":-2.8,"a":-0.9},{"t":201710,"l":-2.7,"d":0.7,"c":0.3,"b":-3,"a":-0.7},{"t":201711,"l":-1.5,"d":0.9,"c":0.5,"b":-2.5,"a":-0.4},{"t":201712,"l":0,"c":1.5,"d":0.8,"b":-2.3},{"t":201801,"l":4,"g":0.3,"d":1.3,"c":2,"a":0.9,"b":-0.8},{"t":201802,"l":4.2,"g":0.3,"d":1.5,"c":2.3,"a":0.8,"b":-0.6},{"t":201803,"l":3.9,"g":0.4,"d":1.8,"c":1.7,"b":-0.3,"a":0.3},{"t":201804,"l":5.5,"g":0.4,"d":1.9,"c":2.6,"a":0.6},{"t":201805,"l":6.5,"g":0.6,"f":0.2,"e":0.2,"d":2,"c":2.7,"a":0.8},{"t":201806,"l":7.5,"g":0.8,"f":0.3,"e":0.3,"d":2.2,"c":3.3,"a":0.7},{"t":201807,"l":9,"g":1,"f":0.3,"e":0.4,"d":2.5,"c":4,"a":0.5},{"t":201808,"l":10.5,"g":1.2,"f":0.3,"e":0.5,"d":2.5,"c":4.7,"b":0.5,"a":1},{"t":201809,"l":12,"g":1.3,"f":0.4,"e":0.5,"d":2.7,"c":5.3,"b":0.6,"a":1.2},{"t":201810,"l":13.5,"g":1.3,"f":0.4,"e":0.4,"d":2.8,"c":5.5,"b":1,"a":2.1},{"t":201811,"l":10.5,"g":1,"f":0.4,"e":0.4,"d":2.2,"c":4.5,"b":0.3,"a":1.7},{"t":201812,"l":7,"g":1,"f":0.4,"e":0.4,"d":1.7,"c":3.5,"a":0.5},{"t":201901,"l":5.5,"g":1.1,"f":0.3,"e":0.4,"d":1.6,"c":2,"b":-0.6,"a":0.7},{"t":201902,"l":6,"g":1.4,"f":0.3,"e":0.4,"d":1.3,"c":2.8,"b":-0.8,"a":0.6},{"t":201903,"l":6.2,"g":1.4,"f":0.3,"e":0.5,"d":1.3,"c":2.5,"b":-0.7,"a":0.9},{"t":201904,"l":7.5,"g":1,"f":0.4,"e":0.4,"d":1.5,"c":3.5,"b":-0.3,"a":1.5},{"t":201905,"l":8,"g":1.1,"f":0.4,"e":0.4,"d":1.7,"c":3.7,"b":-0.2,"a":1},{"t":201906,"l":6.7,"g":1,"f":0.3,"e":0.4,"d":1.5,"c":3,"a":0.7},{"t":201907,"l":6.7,"g":0.9,"f":0.3,"e":0.3,"d":1.4,"c":3.3,"a":0.5},{"t":201908,"l":6.2,"g":0.9,"f":0.2,"e":0.3,"d":1.3,"c":3.4,"a":0.4},{"t":201909,"l":6,"g":0.8,"f":0.2,"e":0.3,"d":1.3,"c":3.5,"a":-0.1,"b":-0.2},{"t":201910,"l":5.3,"g":0.8,"f":0.2,"e":0.3,"d":1.2,"c":3,"a":-0.2,"b":-0.3},{"t":201911,"l":4.7,"g":0.8,"f":0.2,"e":0.3,"d":1.3,"c":2.5,"b":-0.3},{"t":201912,"l":5,"g":0.9,"f":0.2,"e":0.3,"d":1.4,"c":3,"b":-0.3},{"t":202001,"l":5.6,"g":1,"f":0.2,"e":0.3,"d":1.5,"c":2.9,"b":-0.2},{"t":202002,"l":4,"g":0.8,"f":0.2,"e":0.2,"d":0.8,"c":1.8},{"t":202003,"l":1.5,"g":0.3,"f":0.2,"e":0.2,"d":0.3,"c":0.5,"b":-0.5,"a":-0.5},{"t":202004,"l":-2.5,"d":0.3,"c":0.3,"f":-0.3,"g":-0.2,"b":-1.5,"a":-0.6},{"t":202005,"l":-4.5,"f":-0.5,"g":-0.3,"d":0.3,"c":0.4,"b":-2,"a":-1.9},{"t":202006,"l":-5.8,"g":-0.5,"f":-0.3,"e":-0.1,"d":0.5,"c":0.4,"b":-3.2,"a":-2.5},{"t":202007,"l":-5.3,"g":-0.5,"f":-0.3,"d":0.5,"c":0.4,"b":-3.2,"a":-2.4},{"t":202008,"l":-5.3,"g":-0.4,"f":-0.3,"d":0.5,"c":0.4,"b":-3,"a":-2.5},{"t":202009,"l":-6,"g":-0.5,"f":-0.4,"d":0.4,"c":0.3,"b":-3.1,"a":-2.8},{"t":202010,"l":-6.5,"g":-0.6,"f":-0.3,"d":0.3,"c":0.2,"b":-3.6,"a":-2.3},{"t":202011,"l":-6.2,"g":-0.6,"f":-0.3,"d":0.3,"c":0.2,"b":-3.6,"a":-1.9},{"t":202012,"l":-5,"g":-0.3,"f":-0.2,"d":0.5,"c":0.3,"b":-3,"a":-2.3},{"t":202101,"l":-2.5,"c":0.5,"d":0.5,"f":-0.3,"b":-2.5,"a":-0.7},{"t":202102,"l":-0.5,"c":0.8,"d":0.2,"b":-1.5},{"t":202103,"l":1.5,"e":0.2,"d":0.5,"c":0.8,"b":-1,"a":0.5},{"t":202104,"l":2.8,"g":0.3,"e":0.2,"d":1.2,"c":1,"a":1.2,"b":-1},{"t":202105,"l":3.5,"g":0.4,"f":0.2,"e":0.2,"d":1.3,"c":0.9,"a":1,"b":-0.8},{"t":202106,"l":6,"g":0.6,"f":0.2,"e":0.2,"d":1.5,"c":1.5,"b":0.3,"a":2.2},{"t":202107,"l":8.5,"g":0.7,"f":0.3,"e":0.3,"d":1.7,"c":2,"b":0.5,"a":2.5},{"t":202108,"l":10,"g":0.8,"f":0.3,"e":0.3,"d":1.8,"c":2,"b":0.8,"a":4.2},{"t":202109,"l":10.5,"g":0.9,"f":0.4,"e":0.4,"d":2,"c":2.5,"b":1,"a":3},{"t":202110,"l":14,"g":1,"f":0.5,"e":0.5,"d":2.3,"c":3.5,"b":1.5,"a":5},{"t":202111,"l":20.3,"g":1,"f":0.5,"e":0.5,"d":2.5,"c":4.5,"b":2,"a":9.3},{"t":202112,"l":20,"g":1,"f":0.6,"e":0.5,"d":2.3,"c":5,"b":1.5,"a":9},{"t":202201,"l":18,"g":0.9,"f":0.6,"e":0.3,"d":2.3,"c":5,"b":1.7,"a":7.2},{"t":202202,"l":21,"g":1,"f":0.8,"e":0.4,"d":2.6,"c":6.3,"b":2.8,"a":7.6},{"t":202203,"l":23,"g":1.1,"f":1.2,"e":0.4,"d":2.8,"c":6.5,"b":2.8,"a":8},{"t":202204,"l":27,"g":1.3,"f":1.5,"e":0.5,"d":3,"c":7,"b":3.5,"a":10.7},{"t":202205,"l":30,"g":1.3,"f":1.7,"e":0.5,"d":3.4,"c":7,"b":4,"a":12.6},{"t":202206,"l":31.5,"g":1.4,"f":1.8,"e":0.6,"d":3.3,"c":8,"b":4,"a":12.4},{"t":202207,"l":33,"g":1.5,"f":1.8,"e":0.7,"d":4,"c":7.5,"b":5,"a":12.5},{"t":202208,"l":30.5,"g":1.4,"f":1.8,"e":0.7,"d":3.5,"c":8,"b":4,"a":11},{"t":202209,"l":28.5,"g":1.3,"f":1.5,"e":0.6,"d":4,"c":7.5,"b":4.3,"a":9.3},{"t":202210,"l":28.7,"g":1.2,"f":1.5,"e":0.6,"d":3.9,"c":8,"b":3.2,"a":10.2},{"t":202211,"l":28.5,"g":1.3,"f":1.3,"e":0.6,"d":3.8,"c":7.5,"b":4,"a":10},{"t":202212,"l":28.3,"g":1.3,"f":1.3,"e":0.5,"d":3.5,"c":7.5,"b":4,"a":10.2},{"t":202301,"l":26.7,"g":1.3,"f":1,"e":0.5,"d":3.5,"c":6.7,"b":3.5,"a":10.2},{"t":202302,"l":26.2,"g":1.3,"f":1,"e":0.5,"d":3,"c":7,"b":3.2,"a":10.2},{"t":202303,"l":25,"g":1.3,"f":1,"e":0.5,"d":3,"c":7,"b":3,"a":9.2},{"t":202304,"l":25,"g":1.2,"f":0.9,"e":0.5,"d":3,"c":6.5,"b":3.5,"a":9.4},{"t":202305,"l":22,"g":1.1,"f":0.9,"e":0.4,"d":2.7,"c":6.4,"b":3.7,"a":6.3},{"t":202306,"l":19.5,"g":1,"f":0.9,"e":0.4,"d":2.3,"c":5.3,"b":3.2,"a":6.4},{"t":202307,"l":18.7,"g":1,"f":1,"e":0.4,"d":2.3,"c":5.2,"b":3.2,"a":5.6},{"t":202308,"l":21.8,"g":1.2,"f":1.3,"e":0.4,"d":2.7,"c":5.5,"b":4,"a":6.7},{"t":202309,"l":23.6,"g":1.1,"f":1.4,"e":0.5,"d":3.5,"c":5,"b":3.6,"a":8.5},{"t":202310,"l":22.2,"g":1.1,"f":1.3,"e":0.4,"d":3,"c":5,"b":3.1,"a":8.3},{"t":202311,"l":22.2,"g":1.1,"f":1.2,"e":0.4,"d":3,"c":5.5,"b":3.7,"a":7.3},{"t":202312,"l":21.7,"g":1.1,"f":1.1,"e":0.4,"d":3,"c":5,"b":3.8,"a":7.3},{"t":202401,"l":21,"g":1.1,"f":1.1,"e":0.4,"d":2.8,"c":5,"b":3.5,"a":7.1},{"t":202402,"l":20.5,"g":1.1,"f":1.1,"e":0.4,"d":2.7,"c":5,"b":3.2,"a":7},{"t":202403,"l":21.5,"g":1.2,"f":1.2,"e":0.4,"d":2.8,"c":5,"b":3.5,"a":7.6},{"t":202404,"l":21.7,"g":1.3,"f":1.1,"e":0.4,"d":2.8,"c":5,"b":3.5,"a":7.6},{"t":202405,"l":21.5,"g":1.3,"f":1.1,"e":0.4,"d":2.7,"c":5,"b":3.5,"a":7.5},{"t":202406,"l":22,"g":1.3,"f":1,"e":0.4,"d":2.7,"c":5,"b":3.5,"a":8.1},{"t":202407,"l":21.3,"g":1.3,"f":1,"e":0.4,"d":2.4,"c":4.8,"b":3.3,"a":8.1},{"t":202408,"l":19,"g":1.2,"f":0.9,"e":0.4,"d":2.2,"c":4,"b":3,"a":7.3},{"t":202409,"l":17.3,"g":1.2,"f":0.8,"e":0.3,"d":2.2,"c":4,"b":2.5,"a":6.3},{"t":202410,"l":16.2,"g":1.2,"f":0.8,"e":0.3,"d":2,"c":3.9,"b":2,"a":6},{"t":202411,"l":16.2,"g":1.2,"f":0.8,"e":0.3,"d":1.7,"c":4.3,"b":2,"a":5.9},{"t":202412,"l":16.7,"g":1.2,"f":0.8,"e":0.3,"d":2,"c":4.4,"b":2.9,"a":5.1}],
"kl":[{"t":201501,"l":0},{"t":201502,"l":0.5,"c":0.5},{"t":201503,"l":0.7,"c":1.8,"b":-1},{"t":201504,"l":0.6,"c":2.3,"b":-1.3},{"t":201505,"l":0.6,"c":2.9,"b":-2},{"t":201506,"l":0.5,"c":3,"b":-2.2},{"t":201507,"l":-1,"c":1.6,"b":-2.2},{"t":201508,"l":-2.5,"c":-0.8,"b":-1.7},{"t":201509,"l":-4.5,"c":-3,"b":-1.5},{"t":201510,"l":-5.8,"c":-4,"b":-1.8},{"t":201511,"l":-6.8,"c":-4.7,"b":-2},{"t":201512,"l":-7.8,"c":-5.7,"b":-2},{"t":201601,"l":-11.5,"c":-8.5,"b":-2.2,"d":-0.2},{"t":201602,"l":-13.4,"c":-10,"b":-3,"d":-0.5},{"t":201603,"l":-13.5,"c":-9,"b":-3.5,"d":-1},{"t":201604,"l":-13.2,"c":-8,"b":-4,"d":-1.2},{"t":201605,"l":-12.5,"c":-7,"b":-4.7,"d":-1},{"t":201606,"l":-11.5,"c":-6.5,"b":-4.5,"d":-1},{"t":201607,"l":-11,"c":-6.5,"b":-4,"d":-1},{"t":201608,"l":-11.5,"c":-7.5,"b":-3.5,"d":-1.2},{"t":201609,"l":-12.5,"c":-8.5,"b":-3.5,"d":-1.5},{"t":201610,"l":-13,"c":-7,"b":-4,"d":-1},{"t":201611,"l":-11.5,"c":-6,"b":-3.5,"d":-0.7},{"t":201612,"l":-9.5,"c":-3.8,"b":-3.5,"d":-0.5},{"t":201701,"l":-6.5,"c":1.2,"b":-4,"d":-0.5},{"t":201702,"l":-2.5,"c":2.6,"b":-4.3,"d":-0.4},{"t":201703,"l":-1.7,"c":1.6,"b":-4.3,"d":-0.4},{"t":201704,"l":-2.5,"c":1.2,"b":-4.2,"d":-0.4},{"t":201705,"l":-4,"c":0.4,"b":-5,"d":-0.4},{"t":201706,"l":-5.8,"c":0.3,"b":-6,"d":-0.4},{"t":201707,"l":-6.5,"c":0.3,"b":-6.5,"d":-0.4},{"t":201708,"l":-5,"c":0.5,"b":-5.5,"d":-0.4},{"t":201709,"l":-3.5,"c":0.5,"b":-4,"d":-0.3},{"t":201710,"l":-2,"c":1.5,"b":-4.2,"d":-0.2},{"t":201711,"l":-1,"c":3.4,"b":-4.5,"d":-0.2},{"t":201712,"l":0.5,"c":4.4,"b":-4.7,"d":-0.1},{"t":201801,"l":6,"c":9,"a":0.3,"b":-3.4},{"t":201802,"l":5.5,"c":8.5,"a":0.5,"b":-3.4},{"t":201803,"l":5.2,"c":7.8,"a":0.5,"b":-3.4},{"t":201804,"l":6.5,"c":8.7,"a":0.6,"b":-3.3},{"t":201805,"l":8.5,"c":11,"a":0.7,"b":-3.3},{"t":201806,"l":10.5,"c":12.3,"a":1.1,"b":-3},{"t":201807,"l":11.5,"c":13,"a":1.2,"b":-3},{"t":201808,"l":12,"c":13.8,"a":1,"b":-3},{"t":201809,"l":12.5,"c":14,"a":1.2,"b":-3},{"t":201810,"l":14,"c":15.5,"a":1.4,"b":-3.1},{"t":201811,"l":7.5,"c":10,"a":1,"b":-3},{"t":201812,"l":1.5,"c":4.8,"a":0.6,"b":-3},{"t":201901,"l":-2.2,"c":0.8,"a":0.3,"b":-3},{"t":201902,"l":-1,"c":1.3,"a":0.3,"b":-3},{"t":201903,"l":2,"c":3.7,"a":0.4,"b":-3},{"t":201904,"l":3.5,"c":6.2,"a":0.6,"b":-3},{"t":201905,"l":5.7,"c":7.7,"a":0.7,"b":-3},{"t":201906,"l":4,"c":5.8,"a":0.5,"b":-3},{"t":201907,"l":2.3,"c":4.4,"a":0.5,"b":-2.9},{"t":201908,"l":2.2,"c":4.6,"a":0.3,"b":-2.9},{"t":201909,"l":2.8,"c":5.2,"a":0.3,"b":-2.8},{"t":201910,"l":3,"c":5.3,"a":0.3,"b":-2.8},{"t":201911,"l":3.5,"c":5.8,"a":0.4,"b":-2.9},{"t":201912,"l":5.5,"c":7.8,"a":0.5,"b":-3},{"t":202001,"l":5,"c":7.3,"a":0.5,"b":-3.1},{"t":202002,"l":3,"c":4.5,"a":0.4,"b":-3.1},{"t":202003,"l":-5,"c":-6.5,"b":-0.7,"a":0.2},{"t":202004,"l":-13,"c":-13.5,"b":-1.5,"a":0.2},{"t":202005,"l":-16,"c":-14,"b":-2.5,"a":0.2},{"t":202006,"l":-11.5,"c":-9,"b":-3,"a":0.1},{"t":202007,"l":-10.5,"c":-7.5,"b":-3},{"t":202008,"l":-9.5,"c":-6,"b":-3.5,"f":0.3},{"t":202009,"l":-10.5,"c":-7,"b":-3.5},{"t":202010,"l":-12,"c":-7.5,"b":-4.5},{"t":202011,"l":-12,"c":-7.5,"b":-4.3},{"t":202012,"l":-10,"c":-4,"b":-4},{"t":202101,"l":-4,"c":1.8,"b":-4.2,"f":0.3},{"t":202102,"l":-1,"c":3.7,"b":-4,"f":0.5},{"t":202103,"l":3,"c":6,"b":-4,"f":0.6},{"t":202104,"l":3.3,"c":6.5,"b":-4,"f":0.6},{"t":202105,"l":5,"c":7.7,"b":-3.9,"f":0.7},{"t":202106,"l":8,"c":10,"b":-3.8,"f":0.9},{"t":202107,"l":10,"c":11.8,"b":-3.7,"f":0.9},{"t":202108,"l":12,"c":13.5,"d":0.1,"b":-3.6,"f":0.8},{"t":202109,"l":14.5,"c":14.8,"a":0.9,"f":1,"d":0.3,"b":-3.3},{"t":202110,"l":18,"c":18,"d":0.5,"f":1.2,"a":1.2,"b":-3.2},{"t":202111,"l":20.5,"c":18.5,"d":0.5,"f":1.7,"a":0.9,"b":-2.5},{"t":202112,"l":19,"c":18.5,"d":0.5,"f":1.7,"a":1.4,"b":-2},{"t":202201,"l":25,"f":2,"d":1.7,"c":20,"a":1.8,"b":-0.5},{"t":202202,"l":30,"f":2.2,"d":1.8,"c":25.6,"a":2,"b":-0.5},{"t":202203,"l":38,"f":2.5,"d":1.9,"c":32.5,"b":0.5,"a":2},{"t":202204,"l":49,"g":0.7,"f":2.4,"d":4,"c":39,"b":0.5,"a":4},{"t":202205,"l":53,"g":0.8,"f":2.4,"d":4.4,"c":41.5,"b":0.5,"a":3.9},{"t":202206,"l":57,"g":0.8,"f":2.5,"d":4.6,"c":44.5,"a":4.6},{"t":202207,"l":54,"g":0.7,"f":3,"d":6,"c":39.7,"b":1,"a":4.6},{"t":202208,"l":50.5,"g":0.7,"f":3,"d":6.2,"c":36.6,"b":1.5,"a":2.7},{"t":202209,"l":49.5,"g":0.7,"f":3.3,"d":6.2,"c":34.3,"b":4.5,"a":1},{"t":202210,"l":54,"g":0.7,"f":3.3,"d":9,"c":33,"b":4,"a":4},{"t":202211,"l":53.5,"g":0.7,"f":3.3,"d":9,"c":32.5,"b":3.5,"a":4.5},{"t":202212,"l":51.5,"g":0.7,"f":3.3,"d":8.7,"c":30.8,"b":4.5,"a":3.5},{"t":202301,"l":51.5,"g":0.7,"f":3.3,"d":12.2,"c":28.3,"b":3,"a":4},{"t":202302,"l":51,"g":0.7,"f":3.3,"d":12.2,"c":27.3,"b":3,"a":4.8},{"t":202303,"l":49,"g":0.7,"f":3.3,"d":12.3,"c":24.7,"b":3,"a":5},{"t":202304,"l":46.5,"g":0.7,"f":3.3,"d":12.8,"c":23.2,"b":2.5,"a":4},{"t":202305,"l":44,"g":0.7,"f":3.3,"d":14,"c":20.5,"b":3.5,"a":2},{"t":202306,"l":42.5,"g":0.7,"f":3.3,"d":14,"c":19.5,"b":3.5,"a":1.5},{"t":202307,"l":41.8,"g":0.7,"f":3.3,"d":13.8,"c":19.2,"b":3,"a":1.8},{"t":202308,"l":48,"g":0.7,"f":3.3,"d":14.8,"c":24.7,"b":2,"a":2.5},{"t":202309,"l":54.5,"g":0.7,"f":3.3,"d":15.3,"c":30.7,"b":2.5,"a":2},{"t":202310,"l":51.5,"g":0.7,"f":3.3,"d":15,"c":28,"b":2.5,"a":2},{"t":202311,"l":49.5,"g":0.7,"f":3.3,"d":15.3,"c":26.2,"b":1.5,"a":2.5},{"t":202312,"l":49,"g":0.7,"f":3.3,"d":15.8,"c":25.2,"b":2,"a":2},{"t":202401,"l":50.3,"g":0.7,"f":3.3,"d":16,"c":25.5,"b":1.5,"a":3.3},{"t":202402,"l":50,"g":0.7,"f":3.3,"d":16.2,"c":24.8,"b":2,"a":3},{"t":202403,"l":49.7,"g":0.7,"f":3.3,"d":16.3,"c":24.7,"b":2.5,"a":2.2},{"t":202404,"l":50.7,"g":0.7,"f":3.3,"d":16.2,"c":25.8,"b":2,"a":2.7},{"t":202405,"l":50.8,"g":0.7,"f":3.3,"d":16.2,"c":25.5,"b":2.3,"a":2.8},{"t":202406,"l":50.6,"g":0.7,"f":3.3,"d":16.8,"c":24.7,"b":2.5,"a":2.6},{"t":202407,"l":51.2,"g":0.7,"f":3.3,"d":17,"c":25.5,"b":2.5,"a":2.2},{"t":202408,"l":51.8,"g":0.7,"f":3.3,"d":17.5,"c":25,"b":2.5,"a":2.8},{"t":202409,"l":50.3,"g":0.7,"f":3.3,"d":17.8,"c":23.2,"b":2.5,"a":2.8},{"t":202410,"l":47.8,"g":0.7,"f":3.3,"d":18,"c":21,"b":2.5,"a":2.3},{"t":202411,"l":52,"g":0.7,"f":3.3,"d":18.2,"c":24.8,"b":2.5,"a":2.5},{"t":202412,"l":56,"g":0.7,"f":3.3,"d":18.5,"c":28.5,"b":2.5,"a":2.5}],
"kr":[{"t":201501,"l":0},{"t":201502,"l":0.5,"g":0.3,"f":0.2},{"t":201503,"l":0.7,"g":0.3,"f":0.3,"c":0.3,"a":0.6,"d":-0.2},{"t":201504,"l":0.6,"g":0.2,"f":0.3,"c":0.2,"a":1.2,"d":-1},{"t":201505,"l":0.6,"g":0.2,"f":0.3,"c":0.3,"a":1.3,"d":-1.1},{"t":201506,"l":0.5,"f":0.3,"c":0.2,"a":1.5,"d":-1.4},{"t":201507,"l":-1,"g":-0.5,"f":0.2,"d":-0.5,"c":-0.5,"b":-0.2},{"t":201508,"l":-2.5,"g":-0.8,"d":-0.5,"c":-1,"b":-0.2},{"t":201509,"l":-4.5,"g":-1,"d":-0.6,"c":-1.5,"b":-0.4,"a":-0.5},{"t":201510,"l":-5.8,"g":-1,"d":-0.6,"c":-1.8,"b":-0.5,"a":-1.9},{"t":201511,"l":-6.8,"g":-1.1,"d":-0.7,"c":-2,"b":-0.5,"a":-2.5},{"t":201512,"l":-7.8,"g":-1.2,"d":-0.7,"c":-2.2,"b":-0.6,"a":-3.1},{"t":201601,"l":-11.5,"g":-1.5,"f":-0.2,"d":-1.3,"c":-3.5,"b":-0.7,"a":-4.3},{"t":201602,"l":-13.4,"g":-1.8,"f":-0.2,"d":-1.4,"c":-3.7,"b":-0.9,"a":-5.4},{"t":201603,"l":-13.5,"g":-1.8,"f":-0.2,"d":-1.5,"c":-3.7,"b":-0.9,"a":-5.4},{"t":201604,"l":-13.2,"g":-1.9,"f":-0.2,"d":-1.4,"c":-3.5,"b":-1,"a":-4.7},{"t":201605,"l":-12.5,"g":-1.9,"f":-0.2,"d":-1.3,"c":-2.8,"b":-1.2,"a":-4.6},{"t":201606,"l":-11.5,"g":-2,"f":-0.2,"d":-1.2,"c":-2.5,"b":-1.2,"a":-4.4},{"t":201607,"l":-11,"g":-2,"f":-0.2,"d":-1.2,"c":-2.5,"b":-1.1,"a":-4},{"t":201608,"l":-11.5,"g":-2,"d":-1.3,"c":-3,"b":-1,"a":-4.2},{"t":201609,"l":-12.5,"g":-2.2,"d":-1.5,"c":-3,"b":-1,"a":-4.8},{"t":201610,"l":-13,"g":-2.2,"d":-1.5,"c":-3.3,"b":-1,"a":-5},{"t":201611,"l":-11.5,"g":-2,"d":-1.3,"c":-3,"b":-1,"a":-4.2},{"t":201612,"l":-9.5,"g":-1.8,"d":-1.1,"c":-2.3,"b":-0.8,"a":-3.5},{"t":201701,"l":-6.5,"g":-1.6,"d":-0.8,"b":-0.8,"a":-3.3},{"t":201702,"l":-2.5,"g":-1.5,"c":2,"d":0.3,"a":-1.4,"b":-1},{"t":201703,"l":-1.7,"g":-1.5,"e":0.2,"d":0.3,"c":1.6,"b":-1,"a":-1.3},{"t":201704,"l":-2.5,"g":-1.4,"c":1.2,"d":0.3,"b":-1,"a":-1.6},{"t":201705,"l":-4,"g":-1.4,"c":0.4,"d":0.2,"b":-1.2,"a":-2},{"t":201706,"l":-5.8,"g":-1.5,"c":0.4,"b":-1.5,"a":-3},{"t":201707,"l":-6.5,"g":-1.5,"c":0.5,"b":-1.5,"a":-3.9},{"t":201708,"l":-5,"g":-1.5,"c":0.6,"b":-1.4,"a":-2.7},{"t":201709,"l":-3.5,"g":-1.5,"c":0.7,"b":-1,"a":-1.7},{"t":201710,"l":-2,"g":-1.5,"c":0.8,"b":-0.8,"a":-1},{"t":201711,"l":-1,"g":-1.5,"c":1,"b":-0.5},{"t":201712,"l":0.5,"g":-2,"f":1,"c":1.5},{"t":201801,"l":6,"g":-2.2,"f":1.7,"e":0.2,"d":0.5,"c":2,"a":4.3},{"t":201802,"l":5.5,"g":-2.2,"f":1.7,"e":0.3,"d":0.5,"c":1.7,"a":4.5,"b":-0.3},{"t":201803,"l":5.2,"g":-2.2,"f":1.7,"e":0.3,"d":0.6,"c":1.8,"a":3.7},{"t":201804,"l":6.5,"g":-2.2,"f":2,"e":0.4,"d":0.5,"c":2.5,"a":3.3},{"t":201805,"l":8.5,"g":-2,"f":2.1,"e":0.4,"d":0.6,"c":4,"b":0.5,"a":3.7},{"t":201806,"l":10.5,"g":-1.9,"f":2.2,"e":0.5,"d":0.6,"c":4.7,"b":0.5,"a":4.3},{"t":201807,"l":11.5,"g":-1.8,"f":2.3,"e":0.5,"d":0.7,"c":4.7,"b":0.6,"a":4.4},{"t":201808,"l":12,"g":-1.7,"f":2.4,"e":0.5,"d":0.7,"c":4.7,"b":0.6,"a":4.7},{"t":201809,"l":12.5,"g":-1.8,"f":2.4,"e":0.5,"d":0.7,"c":5,"b":0.7,"a":4.3},{"t":201810,"l":14,"g":-1.8,"f":2.5,"e":0.5,"d":0.8,"c":5.5,"b":0.8,"a":5.5},{"t":201811,"l":7.5,"g":-1.8,"f":1.2,"e":0.4,"d":0.7,"c":4.5,"b":0.2,"a":2},{"t":201812,"l":1.5,"g":-1.8,"c":1.5,"d":0.3,"a":2.5,"b":-0.3},{"t":201901,"l":-2.2,"g":-2,"c":0.3,"a":1.4,"b":-1.7},{"t":201902,"l":-1,"g":-1.7,"f":0.2,"a":1.7,"b":-1.2},{"t":201903,"l":2,"g":-1.7,"f":0.5,"e":0.3,"c":0.5,"a":2.5},{"t":201904,"l":3.5,"g":-1.6,"f":0.8,"e":0.3,"d":0.4,"c":1.2,"a":3},{"t":201905,"l":5.7,"g":-1.6,"f":1,"e":0.3,"d":0.3,"c":1.5,"a":3.9},{"t":201906,"l":4,"g":-1.7,"f":0.8,"e":0.3,"d":0.3,"c":1.2,"a":2.6},{"t":201907,"l":2.3,"g":-1.7,"f":0.7,"e":0.3,"d":0.3,"c":1,"a":1.6},{"t":201908,"l":2.2,"g":-1.7,"f":0.7,"e":0.3,"d":0.3,"c":1,"a":1.6},{"t":201909,"l":2.8,"g":-1.7,"f":0.8,"e":0.3,"d":0.3,"c":1,"a":2},{"t":201910,"l":3,"g":-1.7,"f":0.9,"e":0.3,"d":0.4,"c":1,"a":1.9},{"t":201911,"l":3.5,"g":-1.7,"f":1,"e":0.3,"d":0.4,"c":1.1,"a":2.3},{"t":201912,"l":5.5,"g":-1.7,"f":1.2,"e":0.3,"d":0.5,"c":1.2,"a":3.8},{"t":202001,"l":5,"g":-1.7,"f":1.2,"e":0.3,"d":0.5,"c":1.2,"a":3.5},{"t":202002,"l":3,"g":-1.7,"f":0.7,"e":0.3,"d":0.3,"c":0.7,"a":2.3,"b":-0.3},{"t":202003,"l":-5,"g":-2.2,"d":-0.3,"b":-0.5,"a":-2},{"t":202004,"l":-13,"g":-2,"f":-0.5,"d":-2,"c":-3,"b":-0.5,"a":-5},{"t":202005,"l":-16,"g":-2,"f":-0.5,"d":-2.5,"c":-3.5,"b":-1,"a":-6.5},{"t":202006,"l":-11.5,"g":-2.1,"f":-0.4,"d":-2.5,"c":-3,"b":-0.8,"a":-2.7},{"t":202007,"l":-10.5,"g":-2.2,"f":-0.4,"d":-2.5,"c":-2.5,"b":-0.7,"a":-2.2},{"t":202008,"l":-9.5,"g":-2.2,"f":-0.3,"d":-2.5,"c":-2,"b":-0.6,"a":-1.9},{"t":202009,"l":-10.5,"g":-2.2,"f":-0.3,"d":-2.6,"c":-2.5,"b":-0.7,"a":-1.7},{"t":202010,"l":-12,"g":-2.3,"f":-0.3,"d":-2.8,"c":-3,"b":-1,"a":-2.6},{"t":202011,"l":-12,"g":-2,"f":-0.2,"d":-2.8,"c":-2.5,"b":-1.2,"a":-3.3},{"t":202012,"l":-10,"g":-1.8,"d":-2,"c":-1.7,"b":-1.1,"a":-3.4},{"t":202101,"l":-4,"g":-1.8,"b":-0.5,"d":-0.5,"a":-1.2,"f":0.3},{"t":202102,"l":-1,"g":-1.7,"f":0.5,"e":0.2,"d":0.3,"c":0.4,"b":-0.7,"a":0.2},{"t":202103,"l":3,"g":-1.5,"f":0.7,"e":0.3,"d":0.4,"c":1,"a":3.5},{"t":202104,"l":3.3,"g":-1.5,"f":0.8,"e":0.3,"d":0.5,"c":1.5,"a":3.5},{"t":202105,"l":5,"g":-1.4,"f":0.9,"e":0.3,"d":0.5,"c":1.7,"a":4},{"t":202106,"l":8,"g":-1.3,"f":1.1,"e":0.3,"d":0.6,"c":2.2,"a":5.5},{"t":202107,"l":10,"g":-1.3,"f":1.2,"e":0.3,"d":0.6,"c":2.5,"a":6.8},{"t":202108,"l":12,"g":-1.2,"f":1.5,"e":0.3,"d":0.7,"c":2.7,"b":0.2,"a":8},{"t":202109,"l":14.5,"g":-1.2,"f":1.7,"e":0.3,"d":0.8,"c":3.2,"b":0.5,"a":9.2},{"t":202110,"l":18,"g":-1.1,"f":1.5,"e":0.4,"d":0.9,"c":5,"b":0.8,"a":11.5},{"t":202111,"l":20.5,"g":-1.1,"f":1.7,"e":0.4,"d":1,"c":5.5,"b":0.7,"a":13},{"t":202112,"l":19,"g":-1,"f":1.5,"e":0.4,"d":1,"c":5.5,"b":0.7,"a":11.5},{"t":202201,"l":25,"g":-0.3,"f":2.5,"e":0.7,"d":1.3,"c":6.5,"b":1.5,"a":13.5},{"t":202202,"l":30,"g":0.3,"f":3.5,"e":0.8,"d":1.3,"c":9.5,"b":2.5,"a":12},{"t":202203,"l":38,"g":0.5,"f":3.5,"e":1,"d":1.5,"c":10,"b":2,"a":20},{"t":202204,"l":49,"g":0.7,"f":4,"e":1.2,"d":2.5,"c":17,"b":3,"a":21},{"t":202205,"l":53,"g":1,"f":4,"e":1.5,"d":3,"c":16,"b":3,"a":24.5},{"t":202206,"l":57,"g":1.3,"f":4,"e":1.5,"d":3,"c":20.3,"b":4.5,"a":22.4},{"t":202207,"l":54,"g":1.4,"f":3.7,"e":1.5,"d":3.6,"c":20.5,"b":3.5,"a":19.8},{"t":202208,"l":50.5,"g":1.5,"f":3,"e":1.5,"d":5,"c":19.5,"b":3,"a":17},{"t":202209,"l":49.5,"g":1.5,"f":3,"e":1.5,"d":3.5,"c":16.5,"b":4,"a":19.5},{"t":202210,"l":54,"g":2.5,"f":2.7,"e":1.3,"d":5.5,"c":16.5,"b":5,"a":20.5},{"t":202211,"l":53.5,"g":2.7,"f":2.7,"e":1.3,"d":5,"c":17,"b":4.5,"a":20.3},{"t":202212,"l":51.5,"g":2.8,"f":2.7,"e":1.2,"d":6,"c":14,"b":5,"a":19.8},{"t":202301,"l":51.5,"g":3,"f":2.6,"e":1.2,"d":6,"c":14.5,"b":4.5,"a":19.7},{"t":202302,"l":51,"g":3.2,"f":2.5,"e":1.2,"d":6,"c":14,"b":5,"a":19.3},{"t":202303,"l":49,"g":3.3,"f":2.4,"e":1.2,"d":5.7,"c":13,"b":4.7,"a":18.7},{"t":202304,"l":46.5,"g":3.5,"f":2.2,"e":1.1,"d":5.3,"c":13,"b":4.5,"a":17},{"t":202305,"l":44,"g":3.5,"f":2.2,"e":1,"d":5,"c":13,"b":4.2,"a":15},{"t":202306,"l":42.5,"g":3.6,"f":2,"e":1,"d":5,"c":11.5,"b":5,"a":14.4},{"t":202307,"l":41.8,"g":3.8,"f":1.8,"e":1,"d":4,"c":12,"b":4,"a":15.2},{"t":202308,"l":48,"g":3.8,"f":2.5,"e":1,"d":6,"c":12,"b":5,"a":17.7},{"t":202309,"l":54.5,"g":4,"f":3.2,"e":1,"d":6.5,"c":17,"b":4.5,"a":18.3},{"t":202310,"l":51.5,"g":4,"f":2.7,"e":1.2,"d":6,"c":13.5,"b":6,"a":18.1},{"t":202311,"l":49.5,"g":4,"f":2.2,"e":1.2,"d":6,"c":13.5,"b":5.5,"a":17.1},{"t":202312,"l":49,"g":4,"f":2.3,"e":1.2,"d":6,"c":13,"b":5.5,"a":17},{"t":202401,"l":50.3,"g":4,"f":2.3,"e":1.2,"d":6,"c":13.5,"b":5.5,"a":17.8},{"t":202402,"l":50,"g":4,"f":2.3,"e":1.2,"d":6.5,"c":12.5,"b":5.5,"a":18},{"t":202403,"l":49.7,"g":4.2,"f":2.2,"e":1.2,"d":6.5,"c":12.5,"b":5.7,"a":17.4},{"t":202404,"l":50.7,"g":4.2,"f":2.2,"e":1.2,"d":6.8,"c":12,"b":6,"a":18.3},{"t":202405,"l":50.8,"g":4.2,"f":2,"e":1.2,"d":6.5,"c":12.5,"b":5.7,"a":18.7},{"t":202406,"l":50.6,"g":4.3,"f":2.3,"e":1.2,"d":6.3,"c":12,"b":6,"a":18.5},{"t":202407,"l":51.2,"g":4.3,"f":2.3,"e":1.2,"d":6.4,"c":12,"b":6,"a":18.2},{"t":202408,"l":51.8,"g":4.6,"f":2.2,"e":1.2,"d":7,"c":11,"b":5.5,"a":20.3},{"t":202409,"l":50.3,"g":4.7,"f":2,"e":1.1,"d":6.8,"c":11,"b":5,"a":19.7},{"t":202410,"l":47.8,"g":4.9,"f":2,"e":1.1,"d":6,"c":10.8,"b":5.5,"a":17.5},{"t":202411,"l":52,"g":4.6,"f":2.7,"e":1.2,"d":8,"c":10,"b":6.5,"a":19},{"t":202412,"l":56,"g":4.7,"f":3.2,"e":1.1,"d":8.8,"c":12.5,"b":6.7,"a":19}],
"ul":[{"t":201501,"l":0},{"t":201502,"l":1,"c":1.2,"d":-0.2},{"t":201503,"l":3.5,"c":3.8,"d":-0.3,"b":-0.3},{"t":201504,"l":1.5,"c":2.2,"d":-0.4,"b":-0.4},{"t":201505,"l":3.8,"c":4.3,"g":0.4,"d":-0.5,"b":-0.5},{"t":201506,"l":4.3,"c":4.5,"g":0.5,"d":-0.3,"b":-0.4},{"t":201507,"l":4,"c":4.3,"g":0.4,"d":-0.3,"b":-0.4},{"t":201508,"l":0.5,"c":1.3,"d":-0.5,"b":-0.3},{"t":201509,"l":-3,"c":-2.5,"d":-0.5},{"t":201510,"l":-5.5,"c":-4.5,"d":-0.6,"b":-0.4},{"t":201511,"l":-7.5,"c":-6.3,"d":-0.7,"b":-0.5},{"t":201512,"l":-9,"c":-7.8,"d":-0.8,"b":-0.4},{"t":201601,"l":-10,"c":-8.5,"d":-1.1,"b":-0.4},{"t":201602,"l":-13.5,"c":-10.5,"d":-1.5,"b":-1.5,"g":0.2},{"t":201603,"l":-10.5,"c":-8,"d":-1.5,"b":-1,"g":0.3},{"t":201604,"l":-9,"c":-6.8,"d":-1.5,"b":-0.7,"g":0.5},{"t":201605,"l":-8,"c":-6,"d":-1.5,"b":-0.5,"g":0.7},{"t":201606,"l":-5,"c":-3.5,"d":-1.5,"b":-0.6,"g":0.6},{"t":201607,"l":-6.5,"c":-4.5,"d":-1.5,"b":-1,"g":0.7},{"t":201608,"l":-6.5,"c":-4.7,"d":-1.5,"b":-1,"g":0.7},{"t":201609,"l":-5.5,"c":-4.5,"d":-1.5,"b":-0.4,"g":0.8},{"t":201610,"l":-5,"c":-3.6,"d":-1.5,"b":-0.5,"g":0.8},{"t":201611,"l":-5,"c":-3.7,"d":-1.5,"b":-0.5,"g":0.8},{"t":201612,"l":-3,"c":-1.5,"d":-1.5,"b":-0.4,"g":1},{"t":201701,"l":1.5,"c":2.5,"g":1.3,"d":-1.9,"b":-0.4},{"t":201702,"l":1.2,"c":2.3,"g":1.3,"d":-1.8,"b":-0.6},{"t":201703,"l":1,"c":2.1,"g":1.2,"d":-1.8,"b":-0.5},{"t":201704,"l":1,"c":2.2,"g":1,"d":-1.7,"b":-0.4},{"t":201705,"l":-1.5,"g":1,"c":-0.2,"d":-1.5,"b":-0.6},{"t":201706,"l":-2,"g":0.8,"c":-0.5,"d":-1.6,"b":-0.6},{"t":201707,"l":-2.2,"g":0.7,"c":-0.6,"d":-1.7,"b":-0.5},{"t":201708,"l":-0.5,"g":0.8,"c":2,"d":-1.6,"b":-0.5},{"t":201709,"l":6,"g":0.9,"c":7,"d":-1.5,"b":-0.4},{"t":201710,"l":4.5,"g":0.8,"c":5,"d":-1.5,"b":-0.5},{"t":201711,"l":6.5,"g":0.8,"c":8,"d":-1.6,"b":-0.5},{"t":201712,"l":7.5,"g":0.8,"c":8.7,"d":-1.6,"b":-0.6},{"t":201801,"l":8.5,"g":0.8,"c":9.7,"d":-1.5,"b":-0.5},{"t":201802,"l":9,"g":0.7,"c":10.3,"d":-1.7,"b":-0.5},{"t":201803,"l":8,"g":0.7,"c":9.3,"d":-1.8,"b":-0.5},{"t":201804,"l":9.5,"g":0.7,"c":11.3,"d":-1.9,"b":-0.6},{"t":201805,"l":11,"g":0.7,"c":13.3,"d":-2,"b":-0.6},{"t":201806,"l":12,"g":0.7,"c":14.1,"d":-2.1,"b":-0.6},{"t":201807,"l":12,"g":0.7,"c":13.8,"d":-2,"b":-0.6},{"t":201808,"l":12,"g":0.7,"c":14.5,"d":-2.2,"b":-0.6},{"t":201809,"l":13,"g":0.6,"c":15.2,"d":-2.5,"b":-0.5},{"t":201810,"l":14,"g":0.6,"c":16.4,"d":-2.3,"b":-0.5},{"t":201811,"l":13,"g":0.5,"c":13,"d":-2.2,"b":-0.4},{"t":201812,"l":8,"g":0.5,"c":8.5,"d":-2.6,"b":-0.4},{"t":201901,"l":2.5,"g":0.5,"c":5.2,"d":-3,"b":-0.2},{"t":201902,"l":4.5,"g":0.5,"c":7,"d":-3,"b":-0.2},{"t":201903,"l":6.5,"g":0.5,"c":9.2,"d":-3.1,"b":-0.2},{"t":201904,"l":9,"g":0.5,"c":12.3,"d":-3.1,"b":-0.3},{"t":201905,"l":9.5,"g":0.5,"c":11.8,"d":-3.2,"b":-0.3},{"t":201906,"l":8.5,"g":0.5,"c":9,"d":-3.3,"b":-0.3},{"t":201907,"l":6,"g":0.5,"c":9.3,"d":-3.5,"b":-0.2},{"t":201908,"l":6,"g":0.5,"c":8,"d":-3.5,"b":-0.2},{"t":201909,"l":5,"g":0.5,"c":8,"d":-3.6,"b":-0.2},{"t":201910,"l":4.7,"g":0.6,"c":8.1,"d":-3.6,"b":-0.2},{"t":201911,"l":4.8,"g":0.7,"c":8.3,"d":-3.7,"b":-0.2},{"t":201912,"l":5,"g":0.8,"c":9.9,"d":-3.8,"b":-0.2},{"t":202001,"l":7.8,"g":0.7,"c":9.3,"d":-2,"b":-0.3},{"t":202002,"l":6.5,"g":0.6,"c":6.1,"d":-2,"b":-0.3},{"t":202003,"l":-2.5,"g":0.5,"d":-1.5,"c":-1.5,"b":-0.2},{"t":202004,"l":-10,"g":0.2,"d":-1.3,"c":-8.5,"b":-0.4},{"t":202005,"l":-11,"d":-1.2,"c":-9.5,"b":-0.3},{"t":202006,"l":-8,"g":0.2,"d":-1,"c":-7,"b":-0.2},{"t":202007,"l":-6.5,"g":0.5,"d":-1,"c":-5.8,"b":-0.2},{"t":202008,"l":-5.5,"g":0.7,"d":-1,"c":-5,"b":-0.2},{"t":202009,"l":-5,"g":0.7,"d":-1,"c":-4.5,"b":-0.2},{"t":202010,"l":-5,"g":0.7,"d":-1,"c":-4.5,"b":-0.2},{"t":202011,"l":-4.5,"g":0.8,"d":-1,"c":-4.1,"b":-0.2},{"t":202012,"l":2.5,"g":1.2,"d":-0.5,"c":1.5},{"t":202101,"l":7,"g":2.7,"d":0.3,"c":3.5,"b":0.5},{"t":202102,"l":13.5,"g":3.3,"d":1,"c":8.5,"b":0.7},{"t":202103,"l":17.5,"g":4.3,"d":1.5,"c":11.5,"b":0.7},{"t":202104,"l":19.5,"g":5,"d":2,"c":12,"b":0.7},{"t":202105,"l":22.5,"g":6.2,"d":2.2,"c":13.5,"b":0.6},{"t":202106,"l":25,"g":6,"d":2.2,"c":16,"b":0.8},{"t":202107,"l":26.5,"g":6,"d":2,"c":17,"b":1.5},{"t":202108,"l":27,"g":5.3,"d":2.3,"c":18,"b":1.4},{"t":202109,"l":27.5,"g":5.3,"d":2.5,"c":18,"b":1.8},{"t":202110,"l":34.5,"g":5.8,"d":3.3,"c":23,"b":2.4},{"t":202111,"l":38.3,"g":6,"d":3.3,"c":26.5,"b":2.6},{"t":202112,"l":39.5,"g":6.2,"d":3.2,"c":27.5,"b":2.6},{"t":202201,"l":32,"g":5.5,"d":2,"c":22.5,"b":2},{"t":202202,"l":37,"g":6.5,"d":2.2,"c":25.5,"b":2.8},{"t":202203,"l":50.5,"g":7.5,"d":3,"c":37.5,"b":2.5},{"t":202204,"l":54,"g":8.5,"d":3.5,"c":39,"b":3},{"t":202205,"l":63.5,"g":9.5,"d":4.5,"c":45.5,"b":4.5},{"t":202206,"l":70.5,"g":9,"d":5,"c":51,"b":6},{"t":202207,"l":62,"g":8.2,"d":5.5,"c":43.5,"b":4.8},{"t":202208,"l":55.5,"g":8,"d":5.8,"c":36.5,"b":5.2},{"t":202209,"l":55,"g":8.5,"d":6,"c":35.5,"b":5},{"t":202210,"l":56,"g":8.7,"d":5.7,"c":37,"b":4.8},{"t":202211,"l":54,"g":8.5,"d":5.3,"c":37,"b":3.2},{"t":202212,"l":47,"g":7,"d":6.3,"c":29.5,"b":4.2},{"t":202301,"l":47,"g":6.5,"d":5.5,"c":30.5,"b":4.5},{"t":202302,"l":42.5,"g":6.2,"d":4.8,"c":28.5,"b":3},{"t":202303,"l":37,"g":5.3,"d":4.5,"c":24.5,"b":2.7},{"t":202304,"l":34.5,"g":5.2,"d":4.5,"c":22.5,"b":2.3},{"t":202305,"l":30,"g":5.2,"d":4,"c":19,"b":1.8},{"t":202306,"l":29.5,"g":5,"d":4,"c":19,"b":1.5},{"t":202307,"l":30.5,"g":6.3,"d":3.8,"c":18.4,"b":2},{"t":202308,"l":39,"g":6.3,"d":4.7,"c":28},{"t":202309,"l":42.5,"g":6.2,"d":4.8,"c":31.5},{"t":202310,"l":37.5,"g":4.5,"d":4.5,"c":28,"b":0.5},{"t":202311,"l":34,"g":4.5,"d":4.7,"c":24.5,"b":0.5},{"t":202312,"l":33,"g":5,"d":4.3,"c":22.5,"b":0.7},{"t":202401,"l":34,"g":6,"d":5.7,"c":21.5,"b":0.8},{"t":202402,"l":35.2,"g":5.7,"d":5.5,"c":23,"b":1},{"t":202403,"l":34,"g":5.5,"d":5.5,"c":22,"b":1},{"t":202404,"l":34.2,"g":4.7,"d":5.5,"c":23,"b":1},{"t":202405,"l":31,"g":4.5,"d":5.5,"c":19.7,"b":1.3},{"t":202406,"l":29.5,"g":3.8,"d":6,"c":18,"b":1.7},{"t":202407,"l":29,"g":3.7,"d":6,"c":17.5,"b":1.8},{"t":202408,"l":27,"g":3.7,"d":5.7,"c":16,"b":1.6},{"t":202409,"l":25.5,"g":3.6,"d":5.6,"c":14.8,"b":1.5},{"t":202410,"l":24.5,"g":3.6,"d":5.8,"c":14,"b":1.1},{"t":202411,"l":27,"g":6.3,"d":5,"c":14.5,"b":1.2},{"t":202412,"l":30.5,"g":7.3,"d":5.5,"c":16.5,"b":1.3}],
"ur":[{"t":201501,"l":0},{"t":201502,"l":1,"f":1.2,"d":-0.2},{"t":201503,"l":3.5,"f":3.7,"d":-0.2},{"t":201504,"l":1.5,"f":2.2,"d":-0.7},{"t":201505,"l":3.8,"f":4.5,"d":-0.7},{"t":201506,"l":4.3,"f":5,"d":-0.7},{"t":201507,"l":4,"f":5,"d":-1},{"t":201508,"l":0.5,"f":3.5,"g":-1,"b":-0.5,"c":-1.5},{"t":201509,"l":-3,"g":-1,"f":-0.3,"d":-0.5,"c":-0.6,"a":-0.6},{"t":201510,"l":-5.5,"g":-1.5,"f":-0.8,"d":-0.7,"c":-0.8,"b":-0.5,"a":-1.2},{"t":201511,"l":-7.5,"g":-2,"f":-1.5,"d":-1,"c":-1,"b":-0.8,"a":-1.2},{"t":201512,"l":-9,"g":-2,"f":-2.5,"d":-1,"c":-1,"b":-1.2,"a":-1.3},{"t":201601,"l":-10,"g":-2.5,"f":-2.7,"d":-1,"c":-1,"b":-1.5,"a":-1.3},{"t":201602,"l":-13.5,"g":-3,"f":-3.5,"d":-1.2,"c":-2,"b":-2,"a":-1.8},{"t":201603,"l":-10.5,"g":-2.5,"f":-2,"d":-1.2,"c":-2,"b":-1.7,"a":-1},{"t":201604,"l":-9,"g":-2,"f":-1,"d":-1.5,"c":-2,"b":-1.5,"a":-1},{"t":201605,"l":-8,"g":-1.5,"f":-0.5,"d":-2,"c":-2,"b":-1.3,"a":-0.7},{"t":201606,"l":-5,"g":-1.2,"f":0.8,"d":-1.5,"c":-1.5,"b":-1,"a":-0.6},{"t":201607,"l":-6.5,"g":-1.5,"f":0.5,"d":-1.8,"c":-1.7,"b":-1,"a":-0.5},{"t":201608,"l":-6.5,"g":-1.5,"f":0.5,"d":-1.8,"c":-1.7,"b":-1.2,"a":-0.3},{"t":201609,"l":-5.5,"g":-1.2,"f":0.7,"d":-1.7,"c":-1.8,"b":-1.2,"a":-0.3},{"t":201610,"l":-5,"g":-1,"f":0.8,"d":-1.8,"c":-1.7,"b":-1,"a":-0.3},{"t":201611,"l":-5,"g":-0.8,"f":0.8,"d":-1.8,"c":-1.8,"b":-1.1,"a":-0.3},{"t":201612,"l":-3,"g":-0.5,"f":2.5,"d":-1.8,"c":-1.8,"b":-1.4},{"t":201701,"l":1.5,"g":-0.7,"f":5,"d":-1.3,"c":-0.3,"b":-1.7,"a":-0.2},{"t":201702,"l":1.2,"g":-0.7,"f":4.6,"d":-1,"b":-1.7},{"t":201703,"l":1,"g":-0.7,"f":4.4,"d":-1,"b":-1.7},{"t":201704,"l":1,"g":-0.7,"f":4.6,"d":-1,"b":-1.8},{"t":201705,"l":-1.5,"g":-0.8,"f":2.8,"d":-1,"b":-1.9,"c":-0.6},{"t":201706,"l":-2,"g":-0.8,"f":2.2,"c":-0.5,"d":-1,"b":-1.9},{"t":201707,"l":-2.2,"g":-0.8,"f":2,"d":-1,"b":-2,"c":-0.4},{"t":201708,"l":-0.5,"g":-0.8,"f":3.8,"d":-1,"b":-1.9},{"t":201709,"l":6,"g":-0.7,"f":6.8,"b":-1.8,"d":0.8},{"t":201710,"l":4.5,"g":-0.7,"f":5.5,"d":0.5,"b":-1.5},{"t":201711,"l":6.5,"g":-0.6,"f":6.5,"d":1,"c":0.8,"b":-1.3},{"t":201712,"l":7.5,"g":-0.6,"f":7.5,"d":1,"c":0.8,"b":-1.3},{"t":201801,"l":8.5,"g":-0.5,"f":7.8,"d":1.2,"c":1,"b":-1.2,"a":-0.2},{"t":201802,"l":9,"g":-0.5,"f":8.3,"d":1.5,"c":1,"b":-1},{"t":201803,"l":8,"g":-0.5,"f":7.8,"d":1.4,"c":1,"b":-1.2},{"t":201804,"l":9.5,"g":-0.5,"f":8.5,"d":1.5,"c":1.5,"b":-1},{"t":201805,"l":11,"g":-0.5,"f":9.5,"d":1.7,"c":1.5,"b":-0.7},{"t":201806,"l":12,"g":-0.5,"f":10,"d":1.7,"c":1.5,"b":-0.7},{"t":201807,"l":12,"g":-0.5,"f":10,"d":1.5,"c":1.7,"b":-0.7},{"t":201808,"l":12,"g":-0.4,"f":10,"d":1.5,"c":1.8,"b":-0.5},{"t":201809,"l":13,"g":-0.4,"f":10.5,"d":1.7,"c":1.7},{"t":201810,"l":14,"g":-0.4,"f":11,"d":1.8,"c":1.7,"a":0.9},{"t":201811,"l":13,"g":-0.4,"f":9,"d":1.5,"c":1.7,"a":0.7},{"t":201812,"l":8,"g":-0.6,"f":6.5,"d":1.5,"c":0.8,"b":-0.7},{"t":201901,"l":2.5,"g":-0.9,"f":3,"d":1,"c":0.7,"b":-1},{"t":201902,"l":4.5,"g":-1,"f":5,"d":1,"c":0.7,"b":-1.2},{"t":201903,"l":6.5,"g":-1,"f":6.5,"d":1,"c":1,"b":-1},{"t":201904,"l":9,"g":-1,"f":9,"d":1,"c":1.7,"b":-0.8},{"t":201905,"l":9.5,"g":-1,"f":9,"d":1.1,"c":1.5,"b":-1},{"t":201906,"l":8.5,"g":-1,"f":7.3,"d":1.1,"c":2.2,"b":-1},{"t":201907,"l":6,"g":-1,"f":6.7,"d":1.2,"c":1.3,"b":-2},{"t":201908,"l":6,"g":-1,"f":6.7,"d":1.2,"c":1.5,"b":-2.4},{"t":201909,"l":5,"g":-1,"f":6.8,"d":1,"c":1.3,"b":-2.6},{"t":201910,"l":4.7,"g":-1.1,"f":7,"c":1.7,"b":-2.8},{"t":201911,"l":4.8,"g":-1.1,"f":7.5,"d":0.5,"c":1.7,"b":-3},{"t":201912,"l":5,"g":-1,"f":8.5,"d":0.5,"c":1.9,"b":-3.5},{"t":202001,"l":7.8,"g":-0.8,"f":7.5,"d":0.5,"c":2,"b":-1.5},{"t":202002,"l":6.5,"g":-0.8,"f":7,"d":0.5,"c":1.8,"b":-2.5},{"t":202003,"l":-2.5,"g":-2,"f":2.5,"b":-1.5,"a":-1},{"t":202004,"l":-10,"g":-3.5,"f":-0.5,"d":-2,"c":-1.5,"b":-2,"a":-0.5},{"t":202005,"l":-11,"g":-4.5,"f":-0.7,"d":-1.5,"c":-1.8,"b":-2,"a":-0.5},{"t":202006,"l":-8,"g":-1.5,"f":-0.3,"d":-1,"c":-2.5,"b":-2.2,"a":-0.5},{"t":202007,"l":-6.5,"g":-1,"f":0.7,"d":-1.5,"c":-2,"b":-2,"a":-0.7},{"t":202008,"l":-5.5,"g":-0.5,"f":0.9,"d":-1.5,"c":-2,"b":-2,"a":-0.4},{"t":202009,"l":-5,"g":-0.5,"f":0.9,"d":-1.5,"c":-1.8,"b":-1.7,"a":-0.4},{"t":202010,"l":-5,"g":-0.7,"f":1,"d":-1.5,"c":-1.7,"b":-1.7,"a":-0.1},{"t":202011,"l":-4.5,"g":-0.7,"f":0.9,"d":-1.3,"c":-1.5,"b":-1.6},{"t":202012,"l":2.5,"g":0.2,"f":3,"d":-0.3,"b":-0.4},{"t":202101,"l":7,"g":0.7,"f":6,"e":0.2},{"t":202102,"l":13.5,"g":1.5,"f":8.5,"e":0.5,"d":1,"c":1,"b":0.3,"a":0.7},{"t":202103,"l":17.5,"g":2,"f":10,"e":0.5,"d":1.3,"c":1.5,"b":0.7,"a":1.5},{"t":202104,"l":19.5,"g":2.5,"f":11,"e":0.7,"d":1.5,"c":1.5,"b":0.5,"a":1.8},{"t":202105,"l":22.5,"g":2.8,"f":13,"e":0.7,"d":1.5,"c":1.5,"b":0.7,"a":2.3},{"t":202106,"l":25,"g":2.8,"f":14.5,"e":0.8,"d":2,"c":1.7,"b":0.7,"a":2.5},{"t":202107,"l":26.5,"g":3,"f":15.5,"e":0.8,"d":2,"c":2,"b":0.8,"a":2.4},{"t":202108,"l":27,"g":3.2,"f":16,"e":0.8,"d":1.7,"c":2,"b":1,"a":2.3},{"t":202109,"l":27.5,"g":3.7,"f":16.5,"e":0.8,"d":1.7,"c":2,"b":1,"a":2},{"t":202110,"l":34.5,"g":4,"f":22,"e":0.8,"d":2,"c":2.5,"b":0.7,"a":2.5},{"t":202111,"l":38.3,"g":4,"f":23,"e":1,"d":2.5,"c":3.3,"b":2,"a":2.5},{"t":202112,"l":39.5,"g":3.8,"f":23,"e":1,"d":2.7,"c":4,"b":2,"a":3},{"t":202201,"l":32,"g":3.2,"f":18.5,"e":1,"d":1.7,"c":3.5,"b":1.5,"a":2.6},{"t":202202,"l":37,"g":3.5,"f":21,"e":1,"d":2,"c":3.5,"b":2,"a":4},{"t":202203,"l":50.5,"g":4,"f":28.5,"e":1.2,"d":2.3,"c":7,"b":2.3,"a":5},{"t":202204,"l":54,"g":4.5,"f":28.5,"e":1.2,"d":2.5,"c":9,"b":3,"a":5},{"t":202205,"l":63.5,"g":5.8,"f":32,"e":1.2,"d":4,"c":10.5,"b":4.5,"a":5.5},{"t":202206,"l":70.5,"g":6.8,"f":36.5,"e":1.3,"d":4.7,"c":11,"b":4.5,"a":5.7},{"t":202207,"l":62,"g":6.5,"f":31,"e":1.5,"d":4,"c":9,"b":4,"a":5.5},{"t":202208,"l":55.5,"g":6.5,"f":26,"e":1.3,"d":4,"c":9,"b":3.5,"a":5.2},{"t":202209,"l":55,"g":7,"f":25.5,"e":1.3,"d":4.2,"c":8.5,"b":3.5,"a":5},{"t":202210,"l":56,"g":7,"f":26,"e":1.3,"d":4.2,"c":9,"b":3.5,"a":5},{"t":202211,"l":54,"g":6.3,"f":26.7,"e":1.2,"d":4,"c":8,"b":3.2,"a":4.6},{"t":202212,"l":47,"g":6.3,"f":21.5,"e":1,"d":3.8,"c":7.5,"b":2.9,"a":4},{"t":202301,"l":47,"g":6,"f":21.5,"e":1,"d":3.8,"c":7.5,"b":2.7,"a":5},{"t":202302,"l":42.5,"g":5.2,"f":20.5,"e":0.8,"d":3,"c":6,"b":2.5,"a":4.5},{"t":202303,"l":37,"g":4.8,"f":18.5,"e":0.8,"d":2.7,"c":4.5,"b":2,"a":3.7},{"t":202304,"l":34.5,"g":4.5,"f":19,"e":0.7,"d":2.5,"c":3.5,"b":1.5,"a":2.8},{"t":202305,"l":30,"g":4.2,"f":17.3,"e":0.7,"d":2.5,"c":2.5,"b":1,"a":1.8},{"t":202306,"l":29.5,"g":4.3,"f":17,"e":0.7,"d":2.5,"c":2.5,"b":1,"a":1.5},{"t":202307,"l":30.5,"g":4.5,"f":17.3,"e":0.7,"d":2.5,"c":2.5,"b":1.2,"a":1.8},{"t":202308,"l":39,"g":4.8,"f":21.3,"e":0.7,"d":3,"c":4,"b":2,"a":3.2},{"t":202309,"l":42.5,"g":5,"f":24,"e":0.7,"d":3,"c":5,"b":1.5,"a":3.3},{"t":202310,"l":37.5,"g":4.8,"f":20.5,"e":0.7,"d":3,"c":3.5,"b":1.5,"a":3.5},{"t":202311,"l":34,"g":4.5,"f":19,"e":0.7,"d":3,"c":3.5,"b":1,"a":2.3},{"t":202312,"l":33,"g":4.6,"f":18.8,"e":0.7,"d":2.8,"c":3.3,"b":1,"a":1.8},{"t":202401,"l":34,"g":4.7,"f":18.8,"e":0.8,"d":3,"c":3.5,"b":1,"a":2.2},{"t":202402,"l":35.2,"g":5.3,"f":18.7,"e":0.8,"d":3,"c":3.5,"b":1,"a":2.9},{"t":202403,"l":34,"g":5.3,"f":18.5,"e":0.8,"d":2.8,"c":3.3,"b":1,"a":2.3},{"t":202404,"l":34.2,"g":5.3,"f":18.5,"e":0.8,"d":2.8,"c":3.3,"b":1,"a":2.5},{"t":202405,"l":31,"g":5,"f":17.5,"e":0.7,"d":2.5,"c":3,"b":0.8,"a":1.5},{"t":202406,"l":29.5,"g":4.9,"f":16,"e":0.7,"d":2.7,"c":3.2,"b":0.5,"a":1.5},{"t":202407,"l":29,"g":4.8,"f":15.5,"e":0.7,"d":2.7,"c":3.3,"b":0.5,"a":1.5},{"t":202408,"l":27,"g":4.8,"f":14.2,"e":0.7,"d":2.7,"c":3,"b":0.3,"a":1.3},{"t":202409,"l":25.5,"g":4.7,"f":13.5,"e":0.7,"d":2.5,"c":2.8,"a":1.3},{"t":202410,"l":24.5,"g":4.8,"f":13,"e":0.6,"d":2.5,"c":2.5,"a":0.8},{"t":202411,"l":27,"g":5,"f":16,"e":0.7,"d":2.5,"c":2,"a":0.8},{"t":202412,"l":30.5,"g":5.5,"f":17.5,"e":0.8,"d":2.8,"c":2.5,"a":1.7}]
},
"concat":[
{"title":{"text":"（日本）","fontSize":16,"anchor":"start","offset":4,"dx":25},"width":493,"height":297,"data":{"name":"jl"},"encoding":{"x":{"field":"t","type":"ordinal","scale":{"padding":0},"axis":{"title":"（エネルギー種別寄与度）","labelExpr":"datum.value%100==1?datum.value:(datum.value%100==4||datum.value%100==7||datum.value%100==10||datum.value==202412)?(datum.value%100<10?'0':'')+datum.value%100:''"}}},"layer":[{"transform":[{"fold":["a","b","c","d","e","f","g"],"as":["s","v"]},{"filter":"isValid(datum.v)"}],"mark":{"type":"bar","stroke":"#111","strokeWidth":0.6},"encoding":{"y":{"field":"v","type":"quantitative","stack":"zero","scale":{"domain":[-20,50]},"axis":{"values":[-20,-10,0,10,20,30,40,50],"tickCount":20,"title":"（2015年1月=1.0）","labelExpr":"format(1+datum.value/100,'.1f')"}},"color":{"field":"s","type":"nominal","scale":{"domain":["a","b","c","d","e","f","g"],"range":["#666666","#fce0cf","#f2ab7c","#b9fdfd","#3266b4","#ffffff","#b2b2b2"]},"legend":{"legendX":30,"legendY":16,"rowPadding":3,"labelExpr":"['1. 石炭製品','2. ガス','3. 石油製品','4. 電力（国内）','4. 電力（輸入）','5. 熱','6. その他のエネルギー'][indexof('abcdefg',datum.label)]","symbolType":"M-1.8,-0.5H1.8V0.5H-1.8Z"}}}},{"mark":{"type":"rule","color":"#000","strokeWidth":1.2},"encoding":{"y":{"datum":0}}},{"mark":{"type":"line","strokeWidth":1.5},"encoding":{"y":{"field":"l","type":"quantitative"},"stroke":{"datum":"名目エネルギー価格（pE）","scale":{"range":["#000"]},"legend":{"legendX":30,"legendY":114,"symbolType":"M-1.8,0H1.8","symbolStrokeWidth":1.5,"symbolStrokeColor":"#000"}}}}],"resolve":{"scale":{"color":"independent"}}},
{"title":{"text":"エネルギーコスト・モニタリング（ECM） ECM_202502© 2025 慶應義塾大学産業研究所 野村研究室","fontSize":7.7,"orient":"bottom","anchor":"end","dx":24,"offset":4},"width":473,"height":297,"data":{"name":"jr"},"encoding":{"x":{"field":"t","type":"ordinal","scale":{"padding":0},"axis":{"title":"（消費主体別寄与度）","titleFontSize":13,"labelExpr":"datum.value%100==1?datum.value:(datum.value%100==4||datum.value%100==7||datum.value%100==10||datum.value==202412)?(datum.value%100<10?'0':'')+datum.value%100:''"}}},"layer":[{"transform":[{"fold":["a","b","c","d","e","f","g"],"as":["s","v"]},{"filter":"isValid(datum.v)"}],"mark":{"type":"bar","stroke":"#111","strokeWidth":0.6},"encoding":{"y":{"field":"v","type":"quantitative","stack":"zero","scale":{"domain":[-20,50]},"axis":{"values":[-20,-10,0,10,20,30,40,50],"tickCount":20,"title":"（2015年1月=1.0）","labelExpr":"format(1+datum.value/100,'.1f')"}},"color":{"field":"s","type":"nominal","scale":{"domain":["a","b","c","d","e","f","g"],"range":["#3266b4","#b9fdfd","#ffffff","#b4b4b4","#6b6b6b","#ffe699","#ffc000"]},"legend":{"legendX":17,"legendY":16,"rowPadding":5,"labelExpr":"['EITE産業（2101）','Non-EITE産業（2102）','運輸（家計消費分を除く）（2202）','業務（24）','農林水産業（25）','家計（運輸）（2201）','家計（運輸以外）（23）'][indexof('abcdefg',datum.label)]","symbolType":"M-1.8,-0.5H1.8V0.5H-1.8Z"}}}},{"mark":{"type":"rule","color":"#000","strokeWidth":1.2},"encoding":{"y":{"datum":0}}},{"mark":{"type":"line","strokeWidth":1.5},"encoding":{"y":{"field":"l","type":"quantitative"},"stroke":{"datum":"名目エネルギー価格（pE）","scale":{"range":["#000"]},"legend":{"legendX":17,"legendY":128,"symbolType":"M-1.8,0H1.8","symbolStrokeWidth":1.5,"symbolStrokeColor":"#000"}}}},{"data":{"values":[{"t":202412,"k":"産業","u":33.8,"w":5,"m":19.4},{"t":202412,"k":"家計","u":5,"w":0,"m":2.5}]},"layer":[{"mark":{"type":"rule","color":"#222","strokeWidth":1,"xOffset":10},"encoding":{"y":{"field":"u","type":"quantitative"},"y2":{"field":"w"}}},{"mark":{"type":"tick","orient":"horizontal","size":4,"color":"#222","thickness":1,"xOffset":8},"encoding":{"y":{"field":"u","type":"quantitative"}}},{"mark":{"type":"tick","orient":"horizontal","size":4,"color":"#222","thickness":1,"xOffset":8},"encoding":{"y":{"field":"w","type":"quantitative"}}},{"mark":{"type":"text","fontSize":8,"align":"left","xOffset":15,"color":"#333"},"encoding":{"y":{"field":"m","type":"quantitative"},"text":{"field":"k"}}}]}],"resolve":{"scale":{"color":"independent"}}},
{"title":{"text":"（中国）","fontSize":16,"anchor":"start","offset":4,"dx":25},"width":493,"height":297,"data":{"name":"cl"},"encoding":{"x":{"field":"t","type":"ordinal","scale":{"padding":0},"axis":{"title":"（エネルギー種別寄与度）","labelExpr":"datum.value%100==1?datum.value:(datum.value%100==4||datum.value%100==7||datum.value%100==10||datum.value==202412)?(datum.value%100<10?'0':'')+datum.value%100:''"}}},"layer":[{"transform":[{"fold":["a","b","c","d","e","f","g"],"as":["s","v"]},{"filter":"isValid(datum.v)"}],"mark":{"type":"bar","stroke":"#111","strokeWidth":0.6},"encoding":{"y":{"field":"v","type":"quantitative","stack":"zero","scale":{"domain":[-10,35]},"axis":{"values":[-10,-5,0,5,10,15,20,25,30,35],"tickCount":20,"title":"（2015年1月=1.0）","labelExpr":"format(1+datum.value/100,'.2f')"}},"color":{"field":"s","type":"nominal","scale":{"domain":["a","b","c","d","e","f","g"],"range":["#666666","#fce0cf","#f2ab7c","#b9fdfd","#3266b4","#ffffff","#b2b2b2"]},"legend":{"legendX":30,"legendY":16,"rowPadding":3,"labelExpr":"['1. 石炭製品','2. ガス','3. 石油製品','4. 電力（国内）','4. 電力（輸入）','5. 熱','6. その他のエネルギー'][indexof('abcdefg',datum.label)]","symbolType":"M-1.8,-0.5H1.8V0.5H-1.8Z"}}}},{"mark":{"type":"rule","color":"#000","strokeWidth":1.2},"encoding":{"y":{"datum":0}}},{"mark":{"type":"line","strokeWidth":1.5},"encoding":{"y":{"field":"l","type":"quantitative"},"stroke":{"datum":"名目エネルギー価格（pE）","scale":{"range":["#000"]},"legend":{"legendX":30,"legendY":114,"symbolType":"M-1.8,0H1.8","symbolStrokeWidth":1.5,"symbolStrokeColor":"#000"}}}}],"resolve":{"scale":{"color":"independent"}}},
{"title":{"text":"エネルギーコスト・モニタリング（ECM） ECM_202502© 2025 慶應義塾大学産業研究所 野村研究室","fontSize":7.7,"orient":"bottom","anchor":"end","dx":24,"offset":4},"width":473,"height":297,"data":{"name":"cr"},"encoding":{"x":{"field":"t","type":"ordinal","scale":{"padding":0},"axis":{"title":"（消費主体別寄与度）","titleFontSize":13,"labelExpr":"datum.value%100==1?datum.value:(datum.value%100==4||datum.value%100==7||datum.value%100==10||datum.value==202412)?(datum.value%100<10?'0':'')+datum.value%100:''"}}},"layer":[{"transform":[{"fold":["a","b","c","d","e","f","g"],"as":["s","v"]},{"filter":"isValid(datum.v)"}],"mark":{"type":"bar","stroke":"#111","strokeWidth":0.6},"encoding":{"y":{"field":"v","type":"quantitative","stack":"zero","scale":{"domain":[-10,35]},"axis":{"values":[-10,-5,0,5,10,15,20,25,30,35],"tickCount":20,"title":"（2015年1月=1.0）","labelExpr":"format(1+datum.value/100,'.2f')"}},"color":{"field":"s","type":"nominal","scale":{"domain":["a","b","c","d","e","f","g"],"range":["#3266b4","#b9fdfd","#ffffff","#b4b4b4","#6b6b6b","#ffe699","#ffc000"]},"legend":{"legendX":17,"legendY":16,"rowPadding":5,"labelExpr":"['EITE産業（2101）','Non-EITE産業（2102）','運輸（家計消費分を除く）（2202）','業務（24）','農林水産業（25）','家計（運輸）（2201）','家計（運輸以外）（23）'][indexof('abcdefg',datum.label)]","symbolType":"M-1.8,-0.5H1.8V0.5H-1.8Z"}}}},{"mark":{"type":"rule","color":"#000","strokeWidth":1.2},"encoding":{"y":{"datum":0}}},{"mark":{"type":"line","strokeWidth":1.5},"encoding":{"y":{"field":"l","type":"quantitative"},"stroke":{"datum":"名目エネルギー価格（pE）","scale":{"range":["#000"]},"legend":{"legendX":17,"legendY":128,"symbolType":"M-1.8,0H1.8","symbolStrokeWidth":1.5,"symbolStrokeColor":"#000"}}}},{"data":{"values":[{"t":202412,"k":"産業","u":16.7,"w":2.6,"m":9.6},{"t":202412,"k":"家計","u":2.6,"w":0,"m":1.2}]},"layer":[{"mark":{"type":"rule","color":"#222","strokeWidth":1,"xOffset":10},"encoding":{"y":{"field":"u","type":"quantitative"},"y2":{"field":"w"}}},{"mark":{"type":"tick","orient":"horizontal","size":4,"color":"#222","thickness":1,"xOffset":8},"encoding":{"y":{"field":"u","type":"quantitative"}}},{"mark":{"type":"tick","orient":"horizontal","size":4,"color":"#222","thickness":1,"xOffset":8},"encoding":{"y":{"field":"w","type":"quantitative"}}},{"mark":{"type":"text","fontSize":8,"align":"left","xOffset":15,"color":"#333"},"encoding":{"y":{"field":"m","type":"quantitative"},"text":{"field":"k"}}}]}],"resolve":{"scale":{"color":"independent"}}},
{"title":{"text":"（韓国）","fontSize":16,"anchor":"start","offset":4,"dx":25},"width":493,"height":297,"data":{"name":"kl"},"encoding":{"x":{"field":"t","type":"ordinal","scale":{"padding":0},"axis":{"title":"（エネルギー種別寄与度）","labelExpr":"datum.value%100==1?datum.value:(datum.value%100==4||datum.value%100==7||datum.value%100==10||datum.value==202412)?(datum.value%100<10?'0':'')+datum.value%100:''"}}},"layer":[{"transform":[{"fold":["a","b","c","d","e","f","g"],"as":["s","v"]},{"filter":"isValid(datum.v)"}],"mark":{"type":"bar","stroke":"#111","strokeWidth":0.6},"encoding":{"y":{"field":"v","type":"quantitative","stack":"zero","scale":{"domain":[-20,60]},"axis":{"values":[-20,-10,0,10,20,30,40,50,60],"tickCount":20,"title":"（2015年1月=1.0）","labelExpr":"format(1+datum.value/100,'.1f')"}},"color":{"field":"s","type":"nominal","scale":{"domain":["a","b","c","d","e","f","g"],"range":["#666666","#fce0cf","#f2ab7c","#b9fdfd","#3266b4","#ffffff","#b2b2b2"]},"legend":{"legendX":30,"legendY":16,"rowPadding":3,"labelExpr":"['1. 石炭製品','2. ガス','3. 石油製品','4. 電力（国内）','4. 電力（輸入）','5. 熱','6. その他のエネルギー'][indexof('abcdefg',datum.label)]","symbolType":"M-1.8,-0.5H1.8V0.5H-1.8Z"}}}},{"mark":{"type":"rule","color":"#000","strokeWidth":1.2},"encoding":{"y":{"datum":0}}},{"mark":{"type":"line","strokeWidth":1.5},"encoding":{"y":{"field":"l","type":"quantitative"},"stroke":{"datum":"名目エネルギー価格（pE）","scale":{"range":["#000"]},"legend":{"legendX":30,"legendY":114,"symbolType":"M-1.8,0H1.8","symbolStrokeWidth":1.5,"symbolStrokeColor":"#000"}}}}],"resolve":{"scale":{"color":"independent"}}},
{"title":{"text":"エネルギーコスト・モニタリング（ECM） ECM_202502© 2025 慶應義塾大学産業研究所 野村研究室","fontSize":7.7,"orient":"bottom","anchor":"end","dx":24,"offset":4},"width":473,"height":297,"data":{"name":"kr"},"encoding":{"x":{"field":"t","type":"ordinal","scale":{"padding":0},"axis":{"title":"（消費主体別寄与度）","titleFontSize":13,"labelExpr":"datum.value%100==1?datum.value:(datum.value%100==4||datum.value%100==7||datum.value%100==10||datum.value==202412)?(datum.value%100<10?'0':'')+datum.value%100:''"}}},"layer":[{"transform":[{"fold":["a","b","c","d","e","f","g"],"as":["s","v"]},{"filter":"isValid(datum.v)"}],"mark":{"type":"bar","stroke":"#111","strokeWidth":0.6},"encoding":{"y":{"field":"v","type":"quantitative","stack":"zero","scale":{"domain":[-20,60]},"axis":{"values":[-20,-10,0,10,20,30,40,50,60],"tickCount":20,"title":"（2015年1月=1.0）","labelExpr":"format(1+datum.value/100,'.1f')"}},"color":{"field":"s","type":"nominal","scale":{"domain":["a","b","c","d","e","f","g"],"range":["#3266b4","#b9fdfd","#ffffff","#b4b4b4","#6b6b6b","#ffe699","#ffc000"]},"legend":{"legendX":17,"legendY":16,"rowPadding":5,"labelExpr":"['EITE産業（2101）','Non-EITE産業（2102）','運輸（家計消費分を除く）（2202）','業務（24）','農林水産業（25）','家計（運輸）（2201）','家計（運輸以外）（23）'][indexof('abcdefg',datum.label)]","symbolType":"M-1.8,-0.5H1.8V0.5H-1.8Z"}}}},{"mark":{"type":"rule","color":"#000","strokeWidth":1.2},"encoding":{"y":{"datum":0}}},{"mark":{"type":"line","strokeWidth":1.5},"encoding":{"y":{"field":"l","type":"quantitative"},"stroke":{"datum":"名目エネルギー価格（pE）","scale":{"range":["#000"]},"legend":{"legendX":17,"legendY":128,"symbolType":"M-1.8,0H1.8","symbolStrokeWidth":1.5,"symbolStrokeColor":"#000"}}}},{"data":{"values":[{"t":202412,"k":"産業","u":56,"w":9,"m":32.5},{"t":202412,"k":"家計","u":9,"w":0,"m":4.5}]},"layer":[{"mark":{"type":"rule","color":"#222","strokeWidth":1,"xOffset":10},"encoding":{"y":{"field":"u","type":"quantitative"},"y2":{"field":"w"}}},{"mark":{"type":"tick","orient":"horizontal","size":4,"color":"#222","thickness":1,"xOffset":8},"encoding":{"y":{"field":"u","type":"quantitative"}}},{"mark":{"type":"tick","orient":"horizontal","size":4,"color":"#222","thickness":1,"xOffset":8},"encoding":{"y":{"field":"w","type":"quantitative"}}},{"mark":{"type":"text","fontSize":8,"align":"left","xOffset":15,"color":"#333"},"encoding":{"y":{"field":"m","type":"quantitative"},"text":{"field":"k"}}}]}],"resolve":{"scale":{"color":"independent"}}},
{"title":{"text":"（米国）","fontSize":16,"anchor":"start","offset":4,"dx":25},"width":493,"height":297,"data":{"name":"ul"},"encoding":{"x":{"field":"t","type":"ordinal","scale":{"padding":0},"axis":{"title":"（エネルギー種別寄与度）","labelExpr":"datum.value%100==1?datum.value:(datum.value%100==4||datum.value%100==7||datum.value%100==10||datum.value==202412)?(datum.value%100<10?'0':'')+datum.value%100:''"}}},"layer":[{"transform":[{"fold":["a","b","c","d","e","f","g"],"as":["s","v"]},{"filter":"isValid(datum.v)"}],"mark":{"type":"bar","stroke":"#111","strokeWidth":0.6},"encoding":{"y":{"field":"v","type":"quantitative","stack":"zero","scale":{"domain":[-20,80]},"axis":{"values":[-20,-10,0,10,20,30,40,50,60,70,80],"tickCount":20,"title":"（2015年1月=1.0）","labelExpr":"format(1+datum.value/100,'.1f')"}},"color":{"field":"s","type":"nominal","scale":{"domain":["a","b","c","d","e","f","g"],"range":["#666666","#fce0cf","#f2ab7c","#b9fdfd","#3266b4","#ffffff","#b2b2b2"]},"legend":{"legendX":30,"legendY":16,"rowPadding":3,"labelExpr":"['1. 石炭製品','2. ガス','3. 石油製品','4. 電力（国内）','4. 電力（輸入）','5. 熱','6. その他のエネルギー'][indexof('abcdefg',datum.label)]","symbolType":"M-1.8,-0.5H1.8V0.5H-1.8Z"}}}},{"mark":{"type":"rule","color":"#000","strokeWidth":1.2},"encoding":{"y":{"datum":0}}},{"mark":{"type":"line","strokeWidth":1.5},"encoding":{"y":{"field":"l","type":"quantitative"},"stroke":{"datum":"名目エネルギー価格（pE）","scale":{"range":["#000"]},"legend":{"legendX":30,"legendY":114,"symbolType":"M-1.8,0H1.8","symbolStrokeWidth":1.5,"symbolStrokeColor":"#000"}}}}],"resolve":{"scale":{"color":"independent"}}},
{"width":473,"height":297,"data":{"name":"ur"},"encoding":{"x":{"field":"t","type":"ordinal","scale":{"padding":0},"axis":{"title":"（消費主体別寄与度）","titleFontSize":13,"labelExpr":"datum.value%100==1?datum.value:(datum.value%100==4||datum.value%100==7||datum.value%100==10||datum.value==202412)?(datum.value%100<10?'0':'')+datum.value%100:''"}}},"layer":[{"transform":[{"fold":["a","b","c","d","e","f","g"],"as":["s","v"]},{"filter":"isValid(datum.v)"}],"mark":{"type":"bar","stroke":"#111","strokeWidth":0.6},"encoding":{"y":{"field":"v","type":"quantitative","stack":"zero","scale":{"domain":[-20,80]},"axis":{"values":[-20,-10,0,10,20,30,40,50,60,70,80],"tickCount":20,"title":"（2015年1月=1.0）","labelExpr":"format(1+datum.value/100,'.1f')"}},"color":{"field":"s","type":"nominal","scale":{"domain":["a","b","c","d","e","f","g"],"range":["#3266b4","#b9fdfd","#ffffff","#b4b4b4","#6b6b6b","#ffe699","#ffc000"]},"legend":{"legendX":17,"legendY":16,"rowPadding":5,"labelExpr":"['EITE産業（2101）','Non-EITE産業（2102）','運輸（家計消費分を除く）（2202）','業務（24）','農林水産業（25）','家計（運輸）（2201）','家計（運輸以外）（23）'][indexof('abcdefg',datum.label)]","symbolType":"M-1.8,-0.5H1.8V0.5H-1.8Z"}}}},{"mark":{"type":"rule","color":"#000","strokeWidth":1.2},"encoding":{"y":{"datum":0}}},{"mark":{"type":"line","strokeWidth":1.5},"encoding":{"y":{"field":"l","type":"quantitative"},"stroke":{"datum":"名目エネルギー価格（pE）","scale":{"range":["#000"]},"legend":{"legendX":17,"legendY":128,"symbolType":"M-1.8,0H1.8","symbolStrokeWidth":1.5,"symbolStrokeColor":"#000"}}}},{"data":{"values":[{"t":202412,"k":"産業","u":30.5,"w":23.5,"m":27},{"t":202412,"k":"家計","u":23.5,"w":0,"m":11.7}]},"layer":[{"mark":{"type":"rule","color":"#222","strokeWidth":1,"xOffset":10},"encoding":{"y":{"field":"u","type":"quantitative"},"y2":{"field":"w"}}},{"mark":{"type":"tick","orient":"horizontal","size":4,"color":"#222","thickness":1,"xOffset":8},"encoding":{"y":{"field":"u","type":"quantitative"}}},{"mark":{"type":"tick","orient":"horizontal","size":4,"color":"#222","thickness":1,"xOffset":8},"encoding":{"y":{"field":"w","type":"quantitative"}}},{"mark":{"type":"text","fontSize":8,"align":"left","xOffset":15,"color":"#333"},"encoding":{"y":{"field":"m","type":"quantitative"},"text":{"field":"k"}}}]}],"resolve":{"scale":{"color":"independent"}}}
]}
